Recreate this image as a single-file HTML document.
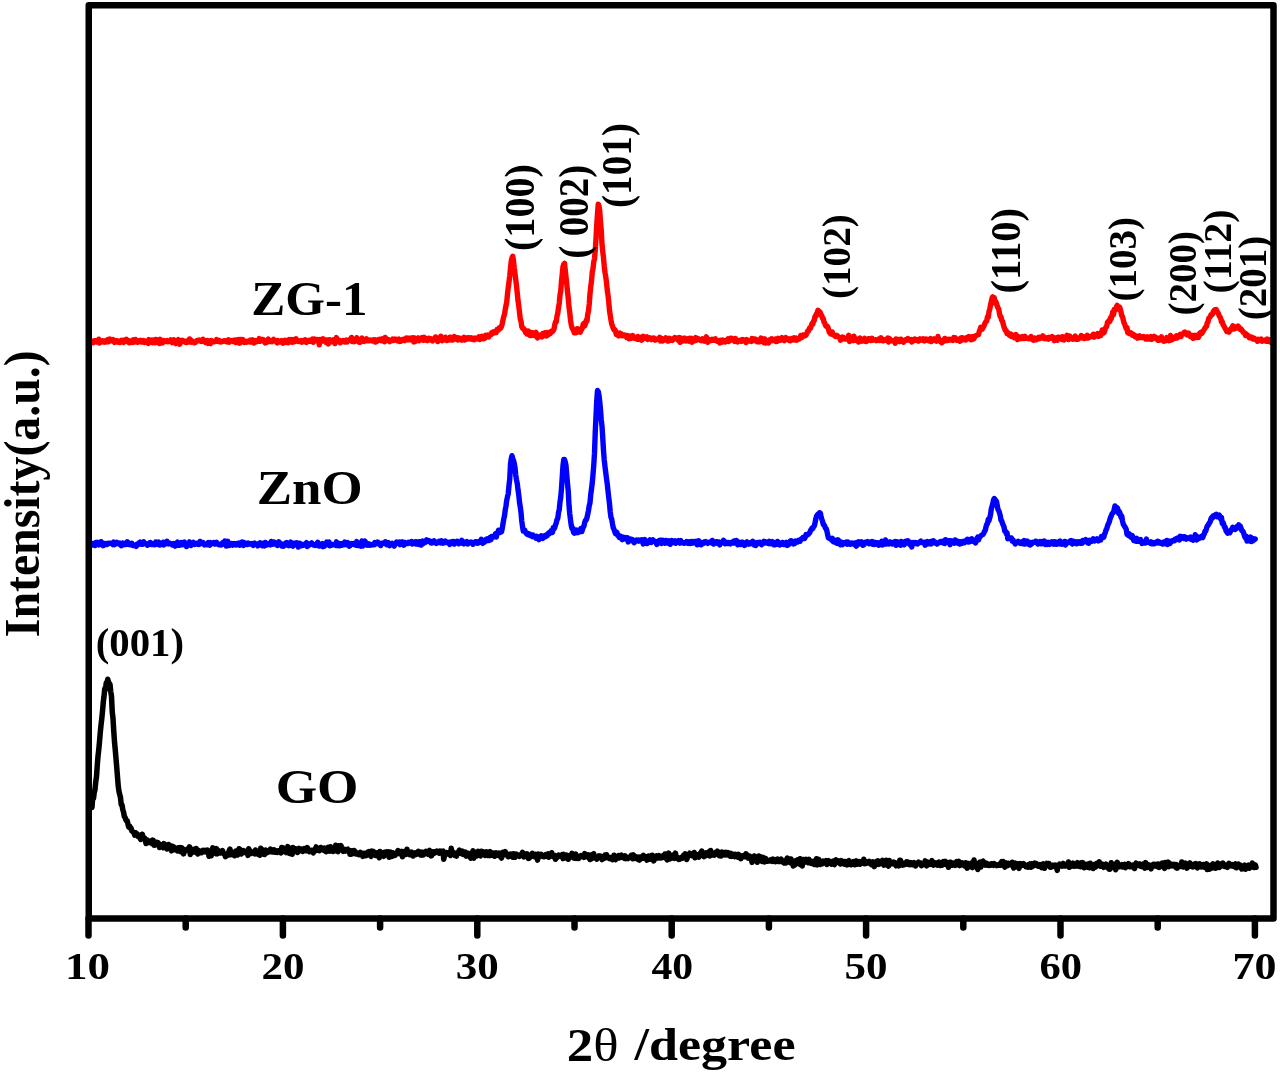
<!DOCTYPE html>
<html><head><meta charset="utf-8"><style>
html,body{margin:0;padding:0;background:#fff;}
body{width:1280px;height:1075px;overflow:hidden;position:relative;}
svg{position:absolute;left:0;top:0;will-change:transform;}
text{font-family:"Liberation Serif",serif;font-weight:bold;font-size:100px;fill:#000;}
</style></head><body>
<svg width="1280" height="1075" viewBox="0 0 1280 1075">
<rect x="0" y="0" width="1280" height="1075" fill="#fff"/>
<g fill="none" stroke-linejoin="round" stroke-linecap="round">
<path d="M92.00,807.4 L92.75,796.1 L93.50,798.5 L94.25,792.5 L95.00,789.5 L95.75,781.7 L96.50,776.6 L97.25,765.6 L98.00,756.3 L98.75,749.7 L99.50,741.7 L100.25,732.8 L101.00,725.2 L101.75,718.9 L102.50,711.4 L103.25,702.4 L104.00,696.4 L104.75,688.7 L105.50,689.5 L106.25,682.8 L107.00,682.6 L107.75,679.3 L108.50,682.1 L109.25,683.5 L110.00,684.5 L110.75,691.6 L111.50,696.3 L112.25,712.2 L113.00,718.3 L113.75,731.1 L114.50,741.7 L115.25,749.8 L116.00,758.6 L116.75,767.4 L117.50,776.9 L118.25,786.2 L119.00,791.5 L119.75,794.6 L120.50,797.5 L121.25,804.7 L122.00,804.9 L122.75,809.5 L123.50,811.8 L124.25,816.2 L125.00,817.3 L125.75,819.5 L126.50,820.8 L127.25,820.8 L128.00,824.2 L128.75,827.0 L129.50,825.9 L130.25,828.1 L131.00,828.0 L131.75,830.9 L132.50,831.2 L133.25,832.4 L134.00,832.4 L134.75,835.2 L135.50,832.7 L136.25,833.4 L137.00,833.7 L137.75,836.2 L138.50,834.8 L139.25,835.4 L140.00,838.1 L140.75,839.4 L141.50,838.9 L142.25,834.2 L143.00,837.4 L143.75,837.7 L144.50,837.9 L145.25,839.6 L146.00,843.5 L146.75,840.5 L147.50,840.1 L148.25,842.7 L149.00,842.0 L149.75,842.4 L150.50,841.4 L151.25,842.7 L152.00,843.7 L152.75,840.1 L153.50,840.8 L154.25,845.3 L155.00,845.1 L155.75,843.2 L156.50,842.5 L157.25,844.0 L158.00,842.6 L158.75,844.1 L159.50,847.5 L160.25,845.2 L161.00,847.0 L161.75,844.9 L162.50,846.0 L163.25,847.8 L164.00,843.6 L164.75,845.4 L165.50,845.9 L166.25,846.7 L167.00,849.0 L167.75,847.8 L168.50,844.5 L169.25,846.6 L170.00,845.8 L170.75,846.0 L171.50,850.9 L172.25,846.1 L173.00,848.4 L173.75,847.0 L174.50,849.7 L175.25,849.1 L176.00,848.9 L176.75,848.7 L177.50,850.8 L178.25,847.7 L179.00,848.1 L179.75,847.6 L180.50,851.6 L181.25,849.1 L182.00,848.0 L182.75,849.1 L183.50,853.9 L184.25,849.8 L185.00,851.3 L185.75,850.8 L186.50,850.1 L187.25,849.1 L188.00,849.7 L188.75,849.7 L189.50,846.8 L190.25,854.5 L191.00,851.9 L191.75,850.6 L192.50,850.2 L193.25,849.3 L194.00,852.1 L194.75,850.3 L195.50,851.5 L196.25,848.5 L197.00,851.4 L197.75,854.0 L198.50,850.4 L199.25,852.2 L200.00,851.1 L200.75,852.8 L201.50,852.8 L202.25,851.3 L203.00,850.3 L203.75,851.7 L204.50,851.4 L205.25,850.4 L206.00,852.1 L206.75,852.2 L207.50,850.1 L208.25,851.4 L209.00,856.3 L209.75,853.0 L210.50,851.9 L211.25,855.8 L212.00,851.1 L212.75,847.9 L213.50,848.9 L214.25,849.5 L215.00,852.4 L215.75,853.6 L216.50,848.6 L217.25,853.9 L218.00,850.2 L218.75,852.6 L219.50,853.0 L220.25,853.0 L221.00,852.4 L221.75,852.7 L222.50,850.6 L223.25,852.9 L224.00,854.1 L224.75,854.0 L225.50,856.7 L226.25,854.3 L227.00,853.8 L227.75,855.3 L228.50,853.0 L229.25,850.6 L230.00,849.1 L230.75,854.8 L231.50,853.6 L232.25,854.1 L233.00,852.2 L233.75,853.3 L234.50,855.8 L235.25,853.3 L236.00,851.0 L236.75,852.1 L237.50,855.0 L238.25,851.1 L239.00,848.7 L239.75,849.1 L240.50,850.6 L241.25,854.0 L242.00,852.9 L242.75,851.5 L243.50,850.6 L244.25,852.5 L245.00,852.4 L245.75,851.7 L246.50,852.2 L247.25,851.4 L248.00,855.4 L248.75,848.7 L249.50,852.7 L250.25,850.8 L251.00,853.5 L251.75,852.0 L252.50,852.9 L253.25,853.1 L254.00,852.6 L254.75,853.8 L255.50,850.0 L256.25,853.7 L257.00,851.7 L257.75,852.7 L258.50,854.5 L259.25,853.8 L260.00,855.1 L260.75,848.3 L261.50,850.3 L262.25,853.4 L263.00,850.0 L263.75,851.5 L264.50,854.5 L265.25,853.1 L266.00,850.1 L266.75,852.3 L267.50,852.6 L268.25,851.7 L269.00,851.4 L269.75,851.7 L270.50,849.1 L271.25,851.7 L272.00,849.9 L272.75,852.0 L273.50,852.1 L274.25,849.9 L275.00,852.3 L275.75,851.9 L276.50,851.2 L277.25,852.4 L278.00,850.8 L278.75,850.8 L279.50,851.3 L280.25,851.1 L281.00,853.0 L281.75,847.4 L282.50,850.6 L283.25,847.9 L284.00,850.3 L284.75,851.5 L285.50,851.0 L286.25,852.6 L287.00,851.5 L287.75,846.6 L288.50,849.1 L289.25,853.4 L290.00,853.4 L290.75,851.0 L291.50,848.4 L292.25,854.3 L293.00,847.4 L293.75,851.3 L294.50,850.7 L295.25,851.1 L296.00,848.8 L296.75,850.0 L297.50,852.4 L298.25,849.8 L299.00,848.4 L299.75,850.5 L300.50,850.7 L301.25,850.3 L302.00,849.2 L302.75,851.3 L303.50,850.2 L304.25,848.5 L305.00,850.7 L305.75,850.3 L306.50,850.6 L307.25,847.6 L308.00,849.1 L308.75,851.0 L309.50,851.7 L310.25,850.8 L311.00,850.4 L311.75,851.3 L312.50,851.7 L313.25,852.9 L314.00,850.8 L314.75,849.1 L315.50,850.8 L316.25,846.9 L317.00,850.1 L317.75,849.2 L318.50,849.9 L319.25,850.7 L320.00,850.0 L320.75,847.5 L321.50,849.2 L322.25,848.5 L323.00,849.7 L323.75,850.3 L324.50,848.2 L325.25,850.9 L326.00,851.7 L326.75,849.2 L327.50,850.8 L328.25,847.2 L329.00,848.7 L329.75,851.1 L330.50,846.7 L331.25,848.7 L332.00,848.1 L332.75,851.4 L333.50,851.3 L334.25,848.5 L335.00,849.7 L335.75,845.3 L336.50,850.9 L337.25,850.1 L338.00,851.7 L338.75,845.8 L339.50,850.2 L340.25,849.1 L341.00,845.6 L341.75,848.7 L342.50,849.8 L343.25,851.3 L344.00,850.5 L344.75,849.4 L345.50,851.1 L346.25,850.3 L347.00,849.6 L347.75,849.2 L348.50,851.2 L349.25,851.3 L350.00,854.2 L350.75,850.7 L351.50,854.1 L352.25,852.3 L353.00,853.7 L353.75,850.5 L354.50,850.8 L355.25,851.8 L356.00,853.9 L356.75,852.9 L357.50,853.9 L358.25,853.4 L359.00,854.7 L359.75,853.5 L360.50,852.4 L361.25,854.2 L362.00,853.6 L362.75,856.4 L363.50,853.4 L364.25,853.9 L365.00,853.3 L365.75,855.7 L366.50,855.3 L367.25,855.0 L368.00,852.0 L368.75,851.6 L369.50,854.4 L370.25,855.2 L371.00,856.4 L371.75,851.1 L372.50,853.7 L373.25,851.3 L374.00,852.4 L374.75,853.6 L375.50,855.5 L376.25,853.1 L377.00,852.8 L377.75,853.4 L378.50,855.9 L379.25,857.8 L380.00,851.4 L380.75,853.4 L381.50,853.2 L382.25,855.7 L383.00,854.5 L383.75,856.3 L384.50,852.2 L385.25,853.8 L386.00,853.0 L386.75,852.0 L387.50,853.5 L388.25,851.8 L389.00,857.2 L389.75,854.3 L390.50,852.0 L391.25,852.7 L392.00,856.4 L392.75,852.8 L393.50,854.7 L394.25,854.5 L395.00,855.3 L395.75,854.5 L396.50,853.2 L397.25,852.5 L398.00,850.6 L398.75,853.3 L399.50,853.6 L400.25,852.8 L401.00,853.1 L401.75,851.4 L402.50,856.8 L403.25,852.5 L404.00,851.6 L404.75,852.3 L405.50,853.0 L406.25,854.4 L407.00,849.3 L407.75,854.0 L408.50,852.2 L409.25,852.8 L410.00,854.7 L410.75,854.3 L411.50,852.0 L412.25,852.9 L413.00,856.0 L413.75,855.2 L414.50,854.4 L415.25,853.0 L416.00,854.5 L416.75,853.6 L417.50,852.1 L418.25,851.3 L419.00,853.7 L419.75,853.5 L420.50,854.8 L421.25,852.1 L422.00,855.1 L422.75,852.3 L423.50,854.9 L424.25,853.7 L425.00,851.9 L425.75,851.3 L426.50,852.6 L427.25,852.4 L428.00,854.3 L428.75,851.7 L429.50,850.4 L430.25,852.8 L431.00,855.9 L431.75,855.4 L432.50,851.8 L433.25,852.4 L434.00,853.3 L434.75,851.8 L435.50,852.4 L436.25,852.4 L437.00,851.2 L437.75,851.9 L438.50,852.1 L439.25,853.2 L440.00,851.0 L440.75,853.0 L441.50,851.3 L442.25,851.6 L443.00,851.1 L443.75,859.3 L444.50,854.9 L445.25,855.1 L446.00,854.3 L446.75,852.6 L447.50,853.1 L448.25,853.5 L449.00,853.7 L449.75,854.0 L450.50,855.5 L451.25,848.3 L452.00,852.2 L452.75,854.2 L453.50,852.5 L454.25,852.9 L455.00,855.5 L455.75,853.5 L456.50,856.1 L457.25,853.1 L458.00,853.6 L458.75,851.6 L459.50,850.1 L460.25,852.6 L461.00,853.4 L461.75,852.8 L462.50,851.2 L463.25,854.4 L464.00,853.5 L464.75,853.4 L465.50,852.2 L466.25,856.1 L467.00,855.9 L467.75,854.0 L468.50,853.4 L469.25,854.0 L470.00,856.3 L470.75,858.1 L471.50,853.7 L472.25,853.0 L473.00,850.8 L473.75,858.2 L474.50,852.0 L475.25,855.2 L476.00,854.6 L476.75,855.9 L477.50,852.5 L478.25,851.3 L479.00,854.1 L479.75,854.6 L480.50,855.8 L481.25,851.3 L482.00,853.3 L482.75,853.6 L483.50,851.9 L484.25,853.8 L485.00,855.4 L485.75,854.0 L486.50,851.8 L487.25,854.7 L488.00,855.5 L488.75,855.1 L489.50,855.5 L490.25,851.6 L491.00,855.0 L491.75,855.2 L492.50,853.7 L493.25,854.2 L494.00,853.1 L494.75,856.3 L495.50,853.9 L496.25,852.9 L497.00,854.7 L497.75,854.6 L498.50,855.5 L499.25,853.1 L500.00,853.4 L500.75,855.1 L501.50,858.1 L502.25,855.3 L503.00,852.4 L503.75,854.9 L504.50,853.4 L505.25,851.7 L506.00,853.6 L506.75,853.7 L507.50,855.4 L508.25,856.8 L509.00,856.5 L509.75,856.0 L510.50,854.1 L511.25,855.0 L512.00,854.7 L512.75,857.1 L513.50,853.8 L514.25,854.0 L515.00,857.3 L515.75,855.8 L516.50,854.2 L517.25,855.2 L518.00,855.2 L518.75,855.3 L519.50,856.3 L520.25,855.6 L521.00,854.7 L521.75,854.2 L522.50,852.3 L523.25,854.4 L524.00,856.9 L524.75,855.5 L525.50,854.1 L526.25,854.8 L527.00,853.8 L527.75,855.7 L528.50,858.4 L529.25,858.1 L530.00,857.2 L530.75,856.5 L531.50,854.9 L532.25,853.3 L533.00,855.3 L533.75,854.6 L534.50,856.7 L535.25,855.6 L536.00,854.5 L536.75,856.1 L537.50,860.1 L538.25,854.0 L539.00,857.3 L539.75,856.4 L540.50,855.4 L541.25,854.3 L542.00,855.6 L542.75,855.9 L543.50,856.8 L544.25,856.7 L545.00,856.1 L545.75,854.6 L546.50,856.1 L547.25,854.9 L548.00,854.0 L548.75,857.2 L549.50,854.7 L550.25,853.8 L551.00,855.9 L551.75,852.7 L552.50,855.7 L553.25,856.5 L554.00,855.2 L554.75,856.2 L555.50,859.3 L556.25,858.2 L557.00,857.4 L557.75,856.9 L558.50,855.1 L559.25,855.7 L560.00,855.5 L560.75,856.0 L561.50,856.2 L562.25,854.7 L563.00,858.6 L563.75,854.4 L564.50,856.7 L565.25,857.8 L566.00,856.1 L566.75,855.1 L567.50,856.2 L568.25,859.3 L569.00,857.2 L569.75,855.8 L570.50,857.2 L571.25,856.0 L572.00,853.3 L572.75,856.7 L573.50,858.0 L574.25,858.2 L575.00,856.3 L575.75,854.2 L576.50,858.4 L577.25,856.2 L578.00,857.7 L578.75,858.4 L579.50,857.1 L580.25,856.5 L581.00,855.6 L581.75,855.9 L582.50,856.7 L583.25,855.9 L584.00,857.3 L584.75,853.6 L585.50,855.1 L586.25,856.7 L587.00,855.7 L587.75,856.0 L588.50,855.0 L589.25,858.0 L590.00,859.5 L590.75,855.3 L591.50,858.8 L592.25,854.6 L593.00,857.2 L593.75,853.8 L594.50,857.8 L595.25,857.1 L596.00,857.3 L596.75,859.1 L597.50,858.1 L598.25,857.1 L599.00,855.9 L599.75,857.3 L600.50,856.1 L601.25,856.6 L602.00,859.6 L602.75,858.7 L603.50,857.8 L604.25,858.3 L605.00,855.0 L605.75,857.5 L606.50,854.7 L607.25,856.3 L608.00,858.0 L608.75,858.0 L609.50,858.6 L610.25,857.7 L611.00,857.5 L611.75,857.5 L612.50,859.7 L613.25,859.6 L614.00,855.2 L614.75,857.7 L615.50,859.6 L616.25,857.1 L617.00,857.9 L617.75,856.6 L618.50,855.6 L619.25,857.8 L620.00,856.9 L620.75,857.3 L621.50,855.2 L622.25,855.7 L623.00,857.3 L623.75,856.8 L624.50,858.4 L625.25,855.8 L626.00,858.6 L626.75,858.4 L627.50,857.6 L628.25,858.5 L629.00,857.4 L629.75,857.2 L630.50,857.4 L631.25,855.4 L632.00,857.4 L632.75,858.7 L633.50,854.9 L634.25,858.5 L635.00,856.4 L635.75,856.8 L636.50,857.5 L637.25,857.8 L638.00,859.5 L638.75,857.1 L639.50,860.1 L640.25,857.4 L641.00,858.1 L641.75,858.4 L642.50,856.2 L643.25,855.5 L644.00,857.5 L644.75,858.4 L645.50,858.7 L646.25,856.7 L647.00,860.1 L647.75,857.1 L648.50,856.2 L649.25,859.1 L650.00,859.2 L650.75,855.7 L651.50,858.6 L652.25,855.2 L653.00,857.3 L653.75,860.9 L654.50,859.3 L655.25,858.4 L656.00,858.3 L656.75,855.9 L657.50,857.8 L658.25,857.9 L659.00,855.5 L659.75,857.5 L660.50,858.0 L661.25,857.5 L662.00,857.8 L662.75,856.8 L663.50,855.3 L664.25,857.1 L665.00,854.0 L665.75,855.9 L666.50,858.8 L667.25,859.8 L668.00,857.6 L668.75,853.1 L669.50,859.1 L670.25,857.8 L671.00,856.6 L671.75,858.1 L672.50,857.7 L673.25,854.9 L674.00,854.7 L674.75,858.4 L675.50,853.1 L676.25,857.7 L677.00,857.2 L677.75,858.2 L678.50,859.4 L679.25,858.8 L680.00,859.1 L680.75,857.9 L681.50,857.4 L682.25,858.2 L683.00,856.5 L683.75,855.0 L684.50,856.3 L685.25,853.8 L686.00,855.4 L686.75,859.5 L687.50,857.0 L688.25,855.8 L689.00,855.1 L689.75,853.2 L690.50,855.1 L691.25,854.6 L692.00,855.8 L692.75,855.8 L693.50,855.5 L694.25,852.5 L695.00,857.8 L695.75,856.1 L696.50,855.4 L697.25,854.8 L698.00,855.9 L698.75,857.1 L699.50,856.0 L700.25,853.1 L701.00,852.9 L701.75,851.1 L702.50,855.0 L703.25,855.8 L704.00,856.6 L704.75,854.8 L705.50,855.8 L706.25,852.9 L707.00,855.2 L707.75,854.1 L708.50,853.2 L709.25,851.5 L710.00,856.0 L710.75,850.5 L711.50,855.0 L712.25,852.7 L713.00,854.9 L713.75,853.0 L714.50,855.1 L715.25,853.5 L716.00,852.2 L716.75,853.0 L717.50,851.2 L718.25,854.2 L719.00,855.5 L719.75,854.5 L720.50,854.0 L721.25,855.9 L722.00,852.0 L722.75,854.8 L723.50,854.0 L724.25,853.3 L725.00,855.0 L725.75,852.3 L726.50,854.0 L727.25,854.9 L728.00,852.6 L728.75,854.1 L729.50,855.5 L730.25,856.2 L731.00,853.3 L731.75,856.4 L732.50,854.6 L733.25,855.3 L734.00,854.4 L734.75,856.7 L735.50,854.4 L736.25,856.1 L737.00,856.4 L737.75,857.1 L738.50,854.4 L739.25,857.4 L740.00,856.3 L740.75,858.7 L741.50,856.0 L742.25,855.7 L743.00,856.6 L743.75,856.3 L744.50,856.7 L745.25,855.0 L746.00,853.8 L746.75,854.9 L747.50,856.4 L748.25,858.1 L749.00,857.0 L749.75,856.1 L750.50,857.5 L751.25,858.0 L752.00,862.4 L752.75,860.2 L753.50,858.6 L754.25,856.0 L755.00,858.2 L755.75,858.1 L756.50,859.6 L757.25,862.3 L758.00,858.9 L758.75,856.0 L759.50,859.0 L760.25,856.7 L761.00,860.8 L761.75,861.3 L762.50,860.2 L763.25,857.4 L764.00,859.6 L764.75,862.0 L765.50,858.5 L766.25,859.3 L767.00,860.7 L767.75,861.2 L768.50,860.6 L769.25,861.1 L770.00,861.0 L770.75,859.8 L771.50,860.6 L772.25,861.3 L773.00,859.1 L773.75,861.2 L774.50,861.1 L775.25,861.7 L776.00,861.6 L776.75,859.4 L777.50,859.1 L778.25,861.5 L779.00,860.9 L779.75,861.4 L780.50,860.3 L781.25,859.2 L782.00,861.7 L782.75,861.1 L783.50,862.3 L784.25,863.1 L785.00,863.1 L785.75,863.0 L786.50,859.9 L787.25,858.1 L788.00,860.5 L788.75,859.6 L789.50,859.4 L790.25,862.6 L791.00,859.0 L791.75,863.1 L792.50,863.4 L793.25,865.9 L794.00,863.3 L794.75,865.0 L795.50,860.7 L796.25,860.6 L797.00,863.3 L797.75,859.7 L798.50,863.6 L799.25,861.4 L800.00,858.7 L800.75,864.8 L801.50,860.1 L802.25,865.9 L803.00,859.5 L803.75,860.5 L804.50,862.3 L805.25,862.0 L806.00,859.4 L806.75,862.1 L807.50,862.3 L808.25,862.7 L809.00,859.4 L809.75,861.1 L810.50,861.9 L811.25,863.3 L812.00,862.3 L812.75,861.5 L813.50,861.4 L814.25,864.5 L815.00,860.8 L815.75,862.6 L816.50,858.7 L817.25,864.9 L818.00,862.9 L818.75,859.4 L819.50,863.2 L820.25,864.4 L821.00,863.5 L821.75,862.4 L822.50,863.6 L823.25,861.1 L824.00,861.9 L824.75,861.7 L825.50,862.4 L826.25,860.7 L827.00,864.5 L827.75,862.1 L828.50,860.6 L829.25,862.0 L830.00,863.0 L830.75,862.5 L831.50,864.2 L832.25,861.8 L833.00,861.2 L833.75,863.2 L834.50,864.5 L835.25,860.9 L836.00,859.9 L836.75,861.4 L837.50,862.4 L838.25,860.9 L839.00,862.8 L839.75,861.1 L840.50,864.0 L841.25,860.6 L842.00,861.1 L842.75,862.7 L843.50,863.7 L844.25,864.1 L845.00,861.5 L845.75,862.6 L846.50,863.5 L847.25,864.9 L848.00,861.2 L848.75,860.7 L849.50,863.4 L850.25,862.3 L851.00,864.8 L851.75,862.7 L852.50,863.2 L853.25,861.5 L854.00,863.2 L854.75,864.7 L855.50,862.4 L856.25,860.9 L857.00,864.2 L857.75,862.3 L858.50,862.9 L859.25,861.7 L860.00,864.3 L860.75,861.7 L861.50,862.1 L862.25,862.9 L863.00,862.6 L863.75,859.3 L864.50,863.7 L865.25,861.1 L866.00,863.3 L866.75,862.3 L867.50,862.8 L868.25,861.8 L869.00,861.3 L869.75,863.2 L870.50,863.4 L871.25,864.6 L872.00,863.9 L872.75,861.9 L873.50,864.9 L874.25,866.6 L875.00,864.2 L875.75,862.8 L876.50,861.5 L877.25,863.2 L878.00,860.8 L878.75,864.4 L879.50,862.5 L880.25,862.2 L881.00,863.6 L881.75,861.2 L882.50,860.4 L883.25,862.5 L884.00,865.2 L884.75,861.9 L885.50,864.6 L886.25,860.3 L887.00,863.1 L887.75,864.1 L888.50,866.1 L889.25,860.5 L890.00,863.2 L890.75,861.9 L891.50,863.8 L892.25,862.4 L893.00,863.5 L893.75,862.1 L894.50,862.5 L895.25,864.0 L896.00,865.8 L896.75,863.7 L897.50,863.6 L898.25,862.7 L899.00,865.9 L899.75,860.3 L900.50,860.3 L901.25,862.2 L902.00,864.2 L902.75,865.0 L903.50,864.4 L904.25,864.7 L905.00,863.8 L905.75,862.8 L906.50,861.8 L907.25,864.3 L908.00,862.0 L908.75,864.2 L909.50,864.7 L910.25,862.6 L911.00,862.9 L911.75,862.7 L912.50,864.7 L913.25,863.9 L914.00,862.6 L914.75,864.1 L915.50,866.0 L916.25,864.1 L917.00,863.9 L917.75,863.0 L918.50,862.2 L919.25,863.7 L920.00,863.8 L920.75,863.2 L921.50,865.6 L922.25,863.4 L923.00,863.5 L923.75,864.1 L924.50,864.6 L925.25,860.9 L926.00,864.2 L926.75,865.8 L927.50,862.0 L928.25,864.4 L929.00,863.0 L929.75,862.3 L930.50,864.3 L931.25,863.7 L932.00,860.6 L932.75,862.9 L933.50,865.2 L934.25,863.0 L935.00,862.7 L935.75,863.3 L936.50,863.2 L937.25,865.1 L938.00,862.6 L938.75,862.1 L939.50,864.6 L940.25,865.5 L941.00,865.1 L941.75,865.3 L942.50,863.0 L943.25,861.7 L944.00,862.9 L944.75,864.0 L945.50,861.3 L946.25,863.6 L947.00,865.0 L947.75,863.0 L948.50,867.2 L949.25,865.3 L950.00,862.2 L950.75,862.3 L951.50,863.0 L952.25,865.2 L953.00,864.9 L953.75,863.2 L954.50,864.4 L955.25,865.4 L956.00,865.0 L956.75,861.6 L957.50,862.5 L958.25,862.7 L959.00,861.5 L959.75,865.6 L960.50,863.2 L961.25,863.2 L962.00,862.9 L962.75,864.7 L963.50,865.1 L964.25,865.3 L965.00,866.2 L965.75,862.8 L966.50,866.8 L967.25,868.2 L968.00,863.4 L968.75,863.7 L969.50,865.3 L970.25,866.3 L971.00,863.9 L971.75,863.0 L972.50,867.6 L973.25,863.5 L974.00,860.0 L974.75,865.2 L975.50,865.9 L976.25,867.1 L977.00,867.2 L977.75,869.3 L978.50,863.5 L979.25,862.8 L980.00,862.1 L980.75,867.1 L981.50,863.7 L982.25,861.8 L983.00,861.2 L983.75,864.7 L984.50,863.8 L985.25,865.0 L986.00,863.1 L986.75,863.3 L987.50,865.2 L988.25,864.2 L989.00,865.4 L989.75,864.3 L990.50,864.1 L991.25,865.1 L992.00,864.0 L992.75,864.8 L993.50,865.3 L994.25,863.7 L995.00,864.4 L995.75,864.7 L996.50,865.6 L997.25,864.9 L998.00,865.0 L998.75,865.3 L999.50,864.1 L1000.25,865.2 L1001.00,863.4 L1001.75,861.7 L1002.50,865.3 L1003.25,861.5 L1004.00,864.4 L1004.75,867.1 L1005.50,865.8 L1006.25,863.0 L1007.00,865.8 L1007.75,865.0 L1008.50,863.3 L1009.25,864.5 L1010.00,863.8 L1010.75,864.2 L1011.50,865.2 L1012.25,862.2 L1013.00,866.0 L1013.75,867.9 L1014.50,864.5 L1015.25,863.2 L1016.00,864.1 L1016.75,866.7 L1017.50,863.9 L1018.25,865.5 L1019.00,868.4 L1019.75,863.6 L1020.50,864.9 L1021.25,863.9 L1022.00,864.2 L1022.75,865.0 L1023.50,863.6 L1024.25,865.5 L1025.00,865.1 L1025.75,866.7 L1026.50,865.9 L1027.25,865.4 L1028.00,867.2 L1028.75,864.5 L1029.50,865.9 L1030.25,863.8 L1031.00,867.2 L1031.75,863.7 L1032.50,866.4 L1033.25,863.8 L1034.00,865.3 L1034.75,863.2 L1035.50,863.7 L1036.25,863.5 L1037.00,865.7 L1037.75,865.8 L1038.50,866.2 L1039.25,865.6 L1040.00,864.7 L1040.75,866.1 L1041.50,867.5 L1042.25,864.5 L1043.00,863.9 L1043.75,866.0 L1044.50,868.3 L1045.25,865.0 L1046.00,864.6 L1046.75,863.5 L1047.50,864.0 L1048.25,863.6 L1049.00,863.6 L1049.75,866.8 L1050.50,867.2 L1051.25,865.3 L1052.00,865.3 L1052.75,866.5 L1053.50,865.2 L1054.25,865.4 L1055.00,866.2 L1055.75,865.2 L1056.50,867.3 L1057.25,870.4 L1058.00,865.3 L1058.75,865.7 L1059.50,864.0 L1060.25,864.6 L1061.00,865.4 L1061.75,866.0 L1062.50,865.0 L1063.25,863.4 L1064.00,865.9 L1064.75,864.5 L1065.50,866.0 L1066.25,865.0 L1067.00,865.1 L1067.75,865.2 L1068.50,862.0 L1069.25,867.3 L1070.00,863.9 L1070.75,865.9 L1071.50,866.2 L1072.25,864.5 L1073.00,863.2 L1073.75,866.3 L1074.50,863.9 L1075.25,865.2 L1076.00,866.1 L1076.75,864.6 L1077.50,862.7 L1078.25,864.3 L1079.00,866.2 L1079.75,864.1 L1080.50,866.8 L1081.25,862.9 L1082.00,863.9 L1082.75,862.6 L1083.50,863.9 L1084.25,867.8 L1085.00,866.3 L1085.75,864.9 L1086.50,864.4 L1087.25,867.2 L1088.00,865.2 L1088.75,863.8 L1089.50,867.8 L1090.25,863.3 L1091.00,865.7 L1091.75,866.4 L1092.50,866.9 L1093.25,868.5 L1094.00,866.7 L1094.75,864.3 L1095.50,867.2 L1096.25,865.9 L1097.00,863.4 L1097.75,863.7 L1098.50,864.1 L1099.25,861.9 L1100.00,866.1 L1100.75,866.3 L1101.50,866.2 L1102.25,864.1 L1103.00,865.3 L1103.75,867.3 L1104.50,866.0 L1105.25,865.2 L1106.00,864.2 L1106.75,865.3 L1107.50,867.4 L1108.25,865.4 L1109.00,869.1 L1109.75,869.3 L1110.50,866.6 L1111.25,862.8 L1112.00,865.0 L1112.75,867.5 L1113.50,864.5 L1114.25,864.3 L1115.00,865.5 L1115.75,869.7 L1116.50,864.7 L1117.25,862.3 L1118.00,865.9 L1118.75,866.1 L1119.50,866.6 L1120.25,865.6 L1121.00,866.0 L1121.75,864.7 L1122.50,867.0 L1123.25,865.4 L1124.00,866.3 L1124.75,864.3 L1125.50,867.7 L1126.25,865.9 L1127.00,864.8 L1127.75,865.6 L1128.50,863.7 L1129.25,864.5 L1130.00,866.8 L1130.75,866.5 L1131.50,866.8 L1132.25,866.6 L1133.00,865.1 L1133.75,865.7 L1134.50,868.5 L1135.25,865.3 L1136.00,863.1 L1136.75,865.5 L1137.50,864.9 L1138.25,865.3 L1139.00,865.5 L1139.75,863.9 L1140.50,866.2 L1141.25,865.2 L1142.00,866.5 L1142.75,864.4 L1143.50,863.9 L1144.25,864.8 L1145.00,868.1 L1145.75,862.6 L1146.50,867.3 L1147.25,865.4 L1148.00,867.3 L1148.75,864.9 L1149.50,866.1 L1150.25,866.1 L1151.00,868.9 L1151.75,865.3 L1152.50,865.9 L1153.25,864.3 L1154.00,866.0 L1154.75,864.3 L1155.50,865.3 L1156.25,866.1 L1157.00,866.4 L1157.75,864.1 L1158.50,864.1 L1159.25,867.4 L1160.00,864.7 L1160.75,865.8 L1161.50,865.1 L1162.25,863.0 L1163.00,865.4 L1163.75,865.4 L1164.50,868.4 L1165.25,862.5 L1166.00,864.7 L1166.75,866.6 L1167.50,864.7 L1168.25,862.1 L1169.00,866.6 L1169.75,865.9 L1170.50,864.2 L1171.25,864.0 L1172.00,864.5 L1172.75,865.9 L1173.50,865.3 L1174.25,864.5 L1175.00,866.1 L1175.75,867.3 L1176.50,864.6 L1177.25,868.1 L1178.00,865.7 L1178.75,866.6 L1179.50,866.3 L1180.25,866.4 L1181.00,866.0 L1181.75,862.0 L1182.50,864.1 L1183.25,867.0 L1184.00,863.9 L1184.75,865.8 L1185.50,863.1 L1186.25,864.6 L1187.00,868.1 L1187.75,866.0 L1188.50,864.2 L1189.25,864.6 L1190.00,862.9 L1190.75,866.3 L1191.50,865.2 L1192.25,866.8 L1193.00,866.9 L1193.75,865.1 L1194.50,864.1 L1195.25,863.7 L1196.00,864.9 L1196.75,865.6 L1197.50,867.8 L1198.25,864.1 L1199.00,866.3 L1199.75,863.9 L1200.50,864.7 L1201.25,866.8 L1202.00,866.4 L1202.75,864.7 L1203.50,864.6 L1204.25,867.3 L1205.00,865.3 L1205.75,865.1 L1206.50,863.9 L1207.25,869.6 L1208.00,868.5 L1208.75,866.5 L1209.50,869.2 L1210.25,866.4 L1211.00,865.1 L1211.75,866.5 L1212.50,867.9 L1213.25,863.9 L1214.00,867.7 L1214.75,867.6 L1215.50,868.1 L1216.25,866.5 L1217.00,867.5 L1217.75,863.0 L1218.50,865.7 L1219.25,867.4 L1220.00,866.7 L1220.75,866.2 L1221.50,863.8 L1222.25,865.6 L1223.00,863.1 L1223.75,865.5 L1224.50,866.4 L1225.25,865.0 L1226.00,866.6 L1226.75,865.9 L1227.50,867.3 L1228.25,865.3 L1229.00,863.3 L1229.75,863.9 L1230.50,864.7 L1231.25,865.9 L1232.00,866.0 L1232.75,864.7 L1233.50,866.1 L1234.25,864.9 L1235.00,866.9 L1235.75,863.8 L1236.50,867.8 L1237.25,866.4 L1238.00,865.3 L1238.75,864.2 L1239.50,866.8 L1240.25,865.0 L1241.00,867.0 L1241.75,868.9 L1242.50,866.3 L1243.25,866.4 L1244.00,866.9 L1244.75,865.2 L1245.50,869.2 L1246.25,865.7 L1247.00,867.2 L1247.75,866.7 L1248.50,865.2 L1249.25,868.3 L1250.00,866.8 L1250.75,865.1 L1251.50,865.2 L1252.25,863.1 L1253.00,864.5 L1253.75,867.6 L1254.50,867.6 L1255.25,864.8 L1256.00,867.3" stroke="#000" stroke-width="5.5"/>
<path d="M92.00,543.7 L92.75,544.9 L93.50,544.6 L94.25,544.5 L95.00,545.5 L95.75,542.4 L96.50,543.1 L97.25,542.3 L98.00,543.6 L98.75,544.9 L99.50,543.7 L100.25,544.3 L101.00,541.7 L101.75,543.9 L102.50,542.8 L103.25,545.7 L104.00,544.7 L104.75,544.8 L105.50,543.7 L106.25,544.4 L107.00,544.5 L107.75,543.4 L108.50,543.2 L109.25,543.6 L110.00,543.1 L110.75,543.1 L111.50,543.5 L112.25,543.0 L113.00,544.6 L113.75,542.0 L114.50,544.7 L115.25,543.1 L116.00,543.2 L116.75,542.3 L117.50,543.6 L118.25,543.5 L119.00,544.0 L119.75,543.2 L120.50,543.9 L121.25,545.8 L122.00,544.2 L122.75,543.2 L123.50,544.8 L124.25,543.6 L125.00,544.4 L125.75,544.5 L126.50,543.4 L127.25,541.7 L128.00,543.4 L128.75,544.4 L129.50,543.4 L130.25,544.3 L131.00,544.9 L131.75,543.2 L132.50,545.1 L133.25,545.6 L134.00,545.0 L134.75,545.1 L135.50,545.0 L136.25,546.3 L137.00,544.0 L137.75,543.8 L138.50,544.5 L139.25,542.8 L140.00,542.1 L140.75,542.8 L141.50,544.2 L142.25,544.3 L143.00,542.1 L143.75,541.7 L144.50,543.5 L145.25,543.6 L146.00,543.7 L146.75,544.5 L147.50,545.2 L148.25,544.1 L149.00,544.5 L149.75,542.6 L150.50,542.5 L151.25,544.1 L152.00,544.5 L152.75,544.6 L153.50,544.5 L154.25,544.7 L155.00,544.7 L155.75,541.9 L156.50,543.0 L157.25,544.3 L158.00,544.5 L158.75,542.1 L159.50,545.1 L160.25,543.3 L161.00,543.5 L161.75,544.1 L162.50,544.6 L163.25,542.2 L164.00,544.9 L164.75,543.9 L165.50,542.9 L166.25,543.5 L167.00,541.4 L167.75,543.1 L168.50,544.0 L169.25,543.0 L170.00,543.4 L170.75,543.6 L171.50,543.8 L172.25,544.9 L173.00,543.8 L173.75,543.5 L174.50,544.4 L175.25,546.1 L176.00,543.4 L176.75,544.3 L177.50,542.0 L178.25,545.3 L179.00,544.5 L179.75,545.2 L180.50,543.7 L181.25,542.6 L182.00,544.8 L182.75,544.6 L183.50,542.8 L184.25,542.2 L185.00,544.3 L185.75,543.6 L186.50,546.6 L187.25,543.1 L188.00,543.2 L188.75,543.6 L189.50,541.9 L190.25,542.8 L191.00,545.6 L191.75,543.6 L192.50,543.1 L193.25,542.4 L194.00,544.4 L194.75,544.5 L195.50,544.0 L196.25,543.3 L197.00,544.1 L197.75,544.2 L198.50,543.0 L199.25,544.4 L200.00,541.4 L200.75,542.3 L201.50,543.4 L202.25,543.6 L203.00,542.5 L203.75,544.1 L204.50,544.9 L205.25,544.3 L206.00,544.0 L206.75,544.7 L207.50,544.2 L208.25,542.5 L209.00,543.5 L209.75,545.2 L210.50,542.5 L211.25,543.8 L212.00,543.3 L212.75,542.8 L213.50,542.6 L214.25,543.9 L215.00,544.1 L215.75,544.1 L216.50,542.2 L217.25,543.4 L218.00,544.1 L218.75,544.8 L219.50,544.5 L220.25,544.7 L221.00,545.0 L221.75,544.7 L222.50,542.9 L223.25,543.8 L224.00,543.0 L224.75,541.1 L225.50,541.9 L226.25,546.1 L227.00,542.5 L227.75,541.3 L228.50,543.1 L229.25,545.4 L230.00,543.7 L230.75,544.2 L231.50,543.5 L232.25,543.7 L233.00,545.2 L233.75,544.7 L234.50,543.7 L235.25,544.8 L236.00,545.0 L236.75,543.5 L237.50,544.1 L238.25,544.1 L239.00,543.1 L239.75,545.1 L240.50,543.6 L241.25,543.1 L242.00,542.0 L242.75,542.4 L243.50,545.5 L244.25,542.6 L245.00,544.3 L245.75,543.4 L246.50,544.4 L247.25,544.5 L248.00,543.0 L248.75,543.5 L249.50,544.0 L250.25,544.0 L251.00,543.8 L251.75,543.5 L252.50,544.5 L253.25,545.3 L254.00,544.5 L254.75,543.1 L255.50,544.3 L256.25,543.9 L257.00,544.4 L257.75,545.9 L258.50,543.7 L259.25,543.9 L260.00,542.9 L260.75,543.6 L261.50,543.3 L262.25,545.7 L263.00,544.2 L263.75,543.3 L264.50,546.0 L265.25,542.5 L266.00,544.9 L266.75,545.0 L267.50,544.6 L268.25,543.7 L269.00,543.8 L269.75,543.6 L270.50,544.8 L271.25,541.4 L272.00,543.4 L272.75,544.1 L273.50,543.3 L274.25,542.0 L275.00,543.7 L275.75,543.1 L276.50,544.9 L277.25,545.5 L278.00,544.1 L278.75,541.9 L279.50,543.8 L280.25,543.0 L281.00,544.8 L281.75,545.9 L282.50,544.4 L283.25,546.3 L284.00,545.7 L284.75,544.8 L285.50,543.1 L286.25,544.3 L287.00,542.6 L287.75,545.3 L288.50,544.3 L289.25,545.7 L290.00,544.5 L290.75,542.1 L291.50,544.9 L292.25,545.3 L293.00,546.1 L293.75,543.2 L294.50,543.2 L295.25,544.3 L296.00,543.1 L296.75,542.8 L297.50,543.1 L298.25,547.1 L299.00,543.6 L299.75,543.2 L300.50,543.8 L301.25,544.3 L302.00,545.7 L302.75,545.3 L303.50,545.2 L304.25,544.3 L305.00,544.5 L305.75,543.6 L306.50,542.7 L307.25,546.6 L308.00,543.8 L308.75,545.4 L309.50,544.0 L310.25,544.2 L311.00,544.2 L311.75,542.8 L312.50,544.3 L313.25,544.8 L314.00,545.3 L314.75,544.9 L315.50,545.5 L316.25,544.7 L317.00,544.4 L317.75,542.2 L318.50,543.8 L319.25,546.1 L320.00,544.5 L320.75,545.3 L321.50,544.2 L322.25,543.7 L323.00,546.7 L323.75,544.8 L324.50,546.1 L325.25,545.0 L326.00,544.1 L326.75,542.0 L327.50,544.5 L328.25,542.7 L329.00,542.0 L329.75,545.8 L330.50,545.3 L331.25,545.2 L332.00,544.5 L332.75,544.4 L333.50,544.9 L334.25,544.6 L335.00,544.6 L335.75,545.3 L336.50,541.8 L337.25,545.5 L338.00,543.8 L338.75,545.4 L339.50,545.8 L340.25,543.5 L341.00,545.3 L341.75,545.3 L342.50,543.7 L343.25,543.9 L344.00,544.6 L344.75,542.0 L345.50,543.9 L346.25,544.6 L347.00,543.9 L347.75,542.6 L348.50,544.0 L349.25,546.1 L350.00,545.8 L350.75,544.2 L351.50,543.5 L352.25,544.3 L353.00,544.4 L353.75,543.6 L354.50,544.0 L355.25,545.0 L356.00,545.3 L356.75,541.6 L357.50,545.4 L358.25,544.4 L359.00,545.5 L359.75,544.2 L360.50,544.7 L361.25,546.1 L362.00,541.0 L362.75,546.0 L363.50,544.4 L364.25,542.2 L365.00,541.2 L365.75,544.5 L366.50,543.0 L367.25,545.2 L368.00,544.4 L368.75,544.0 L369.50,545.2 L370.25,544.3 L371.00,544.9 L371.75,545.0 L372.50,544.4 L373.25,544.9 L374.00,544.9 L374.75,542.5 L375.50,543.7 L376.25,543.8 L377.00,543.5 L377.75,542.2 L378.50,543.3 L379.25,544.3 L380.00,544.1 L380.75,545.5 L381.50,543.2 L382.25,543.3 L383.00,543.2 L383.75,543.4 L384.50,543.1 L385.25,541.7 L386.00,544.1 L386.75,544.8 L387.50,544.9 L388.25,542.5 L389.00,543.5 L389.75,545.7 L390.50,543.5 L391.25,544.0 L392.00,543.4 L392.75,544.7 L393.50,544.6 L394.25,546.1 L395.00,544.1 L395.75,544.0 L396.50,542.1 L397.25,543.0 L398.00,542.7 L398.75,543.1 L399.50,542.0 L400.25,544.7 L401.00,542.2 L401.75,543.7 L402.50,541.9 L403.25,543.7 L404.00,545.1 L404.75,542.4 L405.50,543.6 L406.25,543.1 L407.00,543.5 L407.75,543.6 L408.50,542.4 L409.25,542.9 L410.00,542.4 L410.75,542.1 L411.50,541.6 L412.25,544.0 L413.00,542.1 L413.75,543.6 L414.50,543.5 L415.25,541.7 L416.00,543.9 L416.75,541.8 L417.50,543.4 L418.25,544.3 L419.00,541.9 L419.75,541.6 L420.50,541.6 L421.25,545.1 L422.00,542.1 L422.75,541.1 L423.50,543.4 L424.25,542.2 L425.00,542.4 L425.75,541.3 L426.50,539.9 L427.25,541.5 L428.00,541.2 L428.75,540.5 L429.50,541.1 L430.25,541.2 L431.00,543.1 L431.75,543.0 L432.50,542.8 L433.25,541.6 L434.00,540.8 L434.75,542.5 L435.50,542.7 L436.25,543.3 L437.00,542.2 L437.75,542.0 L438.50,542.5 L439.25,541.2 L440.00,541.3 L440.75,542.9 L441.50,540.8 L442.25,542.1 L443.00,543.1 L443.75,542.5 L444.50,542.7 L445.25,541.0 L446.00,542.1 L446.75,541.9 L447.50,542.9 L448.25,542.7 L449.00,542.3 L449.75,544.4 L450.50,542.9 L451.25,542.0 L452.00,541.6 L452.75,542.3 L453.50,541.7 L454.25,544.1 L455.00,543.0 L455.75,542.0 L456.50,541.6 L457.25,541.2 L458.00,542.1 L458.75,543.8 L459.50,543.3 L460.25,542.3 L461.00,542.5 L461.75,540.3 L462.50,543.2 L463.25,542.2 L464.00,543.9 L464.75,542.2 L465.50,541.9 L466.25,542.7 L467.00,541.7 L467.75,543.9 L468.50,542.8 L469.25,542.8 L470.00,542.8 L470.75,542.0 L471.50,542.9 L472.25,542.6 L473.00,544.3 L473.75,542.4 L474.50,542.6 L475.25,541.7 L476.00,541.7 L476.75,541.7 L477.50,543.3 L478.25,541.9 L479.00,542.8 L479.75,541.3 L480.50,541.1 L481.25,539.3 L482.00,542.2 L482.75,543.3 L483.50,540.6 L484.25,542.3 L485.00,541.4 L485.75,539.5 L486.50,540.8 L487.25,538.7 L488.00,539.1 L488.75,540.5 L489.50,539.0 L490.25,537.2 L491.00,539.7 L491.75,536.6 L492.50,537.3 L493.25,536.7 L494.00,536.5 L494.75,535.2 L495.50,533.9 L496.25,537.1 L497.00,533.4 L497.75,532.7 L498.50,530.2 L499.25,532.1 L500.00,532.5 L500.75,531.5 L501.50,531.8 L502.25,528.4 L503.00,523.8 L503.75,519.1 L504.50,516.0 L505.25,509.9 L506.00,505.9 L506.75,500.2 L507.50,496.7 L508.25,493.6 L509.00,485.6 L509.75,478.9 L510.50,464.3 L511.25,458.7 L512.00,455.7 L512.75,458.5 L513.50,460.4 L514.25,463.4 L515.00,467.8 L515.75,475.1 L516.50,479.7 L517.25,483.5 L518.00,489.7 L518.75,494.8 L519.50,502.2 L520.25,506.9 L521.00,512.3 L521.75,521.0 L522.50,526.5 L523.25,531.0 L524.00,530.1 L524.75,530.2 L525.50,532.5 L526.25,533.0 L527.00,534.2 L527.75,534.6 L528.50,533.6 L529.25,535.1 L530.00,535.4 L530.75,534.5 L531.50,535.5 L532.25,536.6 L533.00,535.0 L533.75,535.8 L534.50,536.7 L535.25,537.3 L536.00,538.2 L536.75,536.3 L537.50,538.2 L538.25,538.6 L539.00,539.6 L539.75,537.4 L540.50,536.7 L541.25,535.8 L542.00,537.8 L542.75,538.4 L543.50,535.9 L544.25,536.8 L545.00,536.9 L545.75,536.6 L546.50,534.7 L547.25,535.5 L548.00,534.3 L548.75,532.8 L549.50,533.5 L550.25,533.0 L551.00,530.8 L551.75,531.6 L552.50,532.4 L553.25,527.6 L554.00,528.9 L554.75,527.6 L555.50,524.8 L556.25,522.9 L557.00,519.7 L557.75,518.5 L558.50,512.6 L559.25,509.7 L560.00,502.1 L560.75,497.0 L561.50,488.4 L562.25,477.0 L563.00,465.5 L563.75,459.5 L564.50,459.5 L565.25,462.0 L566.00,465.6 L566.75,474.8 L567.50,483.4 L568.25,490.9 L569.00,505.3 L569.75,513.8 L570.50,520.0 L571.25,525.5 L572.00,528.5 L572.75,528.1 L573.50,532.4 L574.25,533.1 L575.00,530.8 L575.75,532.7 L576.50,530.1 L577.25,531.0 L578.00,532.6 L578.75,530.2 L579.50,530.0 L580.25,531.6 L581.00,528.5 L581.75,531.6 L582.50,529.3 L583.25,527.3 L584.00,526.0 L584.75,522.3 L585.50,520.2 L586.25,519.9 L587.00,517.6 L587.75,514.2 L588.50,510.5 L589.25,505.7 L590.00,502.9 L590.75,494.3 L591.50,489.0 L592.25,482.9 L593.00,474.5 L593.75,465.4 L594.50,453.2 L595.25,432.0 L596.00,416.3 L596.75,400.7 L597.50,390.5 L598.25,391.5 L599.00,395.7 L599.75,401.8 L600.50,409.8 L601.25,419.8 L602.00,426.3 L602.75,437.7 L603.50,450.6 L604.25,460.0 L605.00,466.7 L605.75,472.7 L606.50,478.5 L607.25,483.8 L608.00,491.0 L608.75,497.5 L609.50,503.7 L610.25,512.1 L611.00,517.3 L611.75,519.4 L612.50,523.9 L613.25,527.7 L614.00,529.4 L614.75,531.5 L615.50,533.5 L616.25,531.9 L617.00,532.8 L617.75,535.5 L618.50,535.8 L619.25,537.5 L620.00,535.9 L620.75,538.0 L621.50,538.4 L622.25,539.7 L623.00,537.0 L623.75,537.7 L624.50,538.7 L625.25,538.9 L626.00,537.7 L626.75,538.4 L627.50,537.8 L628.25,541.9 L629.00,539.4 L629.75,539.6 L630.50,539.1 L631.25,539.9 L632.00,540.8 L632.75,539.7 L633.50,540.2 L634.25,542.7 L635.00,541.4 L635.75,540.8 L636.50,540.1 L637.25,540.7 L638.00,540.0 L638.75,541.1 L639.50,540.2 L640.25,540.2 L641.00,540.6 L641.75,539.9 L642.50,541.4 L643.25,544.0 L644.00,540.6 L644.75,539.5 L645.50,542.4 L646.25,541.3 L647.00,543.6 L647.75,541.9 L648.50,542.6 L649.25,540.7 L650.00,539.8 L650.75,541.4 L651.50,542.4 L652.25,540.7 L653.00,539.9 L653.75,541.1 L654.50,541.2 L655.25,541.4 L656.00,541.7 L656.75,544.4 L657.50,541.8 L658.25,541.3 L659.00,540.7 L659.75,542.7 L660.50,540.2 L661.25,543.5 L662.00,541.9 L662.75,540.3 L663.50,542.2 L664.25,541.9 L665.00,543.3 L665.75,540.4 L666.50,542.3 L667.25,542.0 L668.00,543.1 L668.75,540.8 L669.50,541.2 L670.25,544.3 L671.00,542.7 L671.75,540.5 L672.50,542.5 L673.25,541.3 L674.00,541.4 L674.75,540.9 L675.50,543.3 L676.25,541.6 L677.00,542.4 L677.75,542.3 L678.50,540.6 L679.25,541.5 L680.00,543.1 L680.75,540.6 L681.50,542.6 L682.25,542.2 L683.00,543.0 L683.75,543.1 L684.50,543.3 L685.25,542.4 L686.00,542.7 L686.75,541.6 L687.50,541.8 L688.25,543.4 L689.00,541.8 L689.75,543.5 L690.50,543.5 L691.25,541.6 L692.00,543.1 L692.75,541.6 L693.50,542.8 L694.25,541.6 L695.00,542.9 L695.75,542.7 L696.50,541.4 L697.25,544.8 L698.00,543.6 L698.75,540.8 L699.50,542.9 L700.25,542.1 L701.00,544.8 L701.75,542.5 L702.50,543.0 L703.25,542.4 L704.00,543.3 L704.75,542.0 L705.50,541.6 L706.25,542.1 L707.00,542.2 L707.75,543.3 L708.50,542.7 L709.25,542.2 L710.00,542.2 L710.75,541.7 L711.50,542.8 L712.25,540.4 L713.00,542.4 L713.75,544.0 L714.50,542.3 L715.25,542.0 L716.00,542.8 L716.75,541.7 L717.50,541.9 L718.25,543.5 L719.00,542.0 L719.75,544.9 L720.50,543.3 L721.25,542.6 L722.00,542.1 L722.75,542.5 L723.50,540.3 L724.25,543.0 L725.00,543.7 L725.75,543.4 L726.50,542.3 L727.25,543.5 L728.00,543.5 L728.75,542.6 L729.50,543.2 L730.25,543.9 L731.00,543.3 L731.75,542.4 L732.50,542.8 L733.25,543.0 L734.00,541.0 L734.75,543.0 L735.50,542.7 L736.25,540.4 L737.00,540.9 L737.75,544.8 L738.50,542.9 L739.25,544.3 L740.00,542.4 L740.75,544.5 L741.50,543.5 L742.25,542.1 L743.00,543.2 L743.75,544.6 L744.50,545.5 L745.25,543.4 L746.00,542.4 L746.75,541.9 L747.50,543.6 L748.25,544.1 L749.00,543.1 L749.75,542.8 L750.50,543.8 L751.25,543.4 L752.00,543.3 L752.75,541.2 L753.50,542.6 L754.25,545.0 L755.00,542.9 L755.75,545.6 L756.50,543.4 L757.25,542.6 L758.00,543.3 L758.75,543.6 L759.50,542.2 L760.25,543.2 L761.00,542.5 L761.75,544.6 L762.50,542.5 L763.25,543.1 L764.00,541.3 L764.75,541.5 L765.50,542.9 L766.25,542.0 L767.00,542.7 L767.75,543.2 L768.50,543.6 L769.25,541.4 L770.00,542.8 L770.75,543.7 L771.50,542.2 L772.25,541.6 L773.00,542.2 L773.75,544.8 L774.50,543.0 L775.25,544.7 L776.00,542.7 L776.75,544.3 L777.50,541.4 L778.25,542.7 L779.00,543.1 L779.75,544.9 L780.50,543.5 L781.25,544.2 L782.00,542.5 L782.75,542.5 L783.50,544.4 L784.25,544.6 L785.00,544.4 L785.75,544.3 L786.50,542.4 L787.25,545.4 L788.00,543.2 L788.75,544.4 L789.50,543.8 L790.25,541.0 L791.00,540.7 L791.75,541.1 L792.50,542.7 L793.25,543.9 L794.00,542.3 L794.75,543.5 L795.50,541.1 L796.25,541.6 L797.00,541.1 L797.75,541.8 L798.50,540.2 L799.25,541.0 L800.00,541.3 L800.75,539.7 L801.50,538.8 L802.25,538.9 L803.00,537.5 L803.75,537.1 L804.50,538.5 L805.25,537.3 L806.00,534.6 L806.75,535.0 L807.50,535.0 L808.25,534.4 L809.00,533.3 L809.75,532.7 L810.50,530.6 L811.25,529.5 L812.00,528.2 L812.75,528.6 L813.50,526.8 L814.25,526.0 L815.00,523.2 L815.75,519.1 L816.50,516.5 L817.25,514.9 L818.00,514.2 L818.75,515.1 L819.50,512.8 L820.25,512.9 L821.00,516.2 L821.75,519.1 L822.50,521.2 L823.25,524.5 L824.00,524.8 L824.75,526.2 L825.50,528.2 L826.25,528.8 L827.00,531.4 L827.75,535.3 L828.50,537.9 L829.25,538.5 L830.00,538.7 L830.75,539.0 L831.50,540.1 L832.25,538.2 L833.00,541.4 L833.75,542.0 L834.50,541.4 L835.25,541.9 L836.00,540.3 L836.75,543.3 L837.50,543.5 L838.25,539.8 L839.00,542.3 L839.75,543.3 L840.50,544.8 L841.25,542.0 L842.00,542.9 L842.75,544.6 L843.50,543.5 L844.25,542.7 L845.00,542.5 L845.75,543.0 L846.50,542.1 L847.25,544.1 L848.00,542.0 L848.75,543.6 L849.50,544.0 L850.25,544.3 L851.00,543.1 L851.75,543.0 L852.50,543.4 L853.25,543.2 L854.00,544.3 L854.75,543.0 L855.50,545.2 L856.25,546.2 L857.00,542.4 L857.75,543.5 L858.50,541.8 L859.25,543.9 L860.00,543.5 L860.75,542.8 L861.50,541.9 L862.25,543.1 L863.00,545.3 L863.75,544.8 L864.50,543.5 L865.25,542.4 L866.00,543.0 L866.75,542.2 L867.50,541.6 L868.25,542.0 L869.00,543.7 L869.75,543.4 L870.50,543.2 L871.25,541.8 L872.00,541.5 L872.75,544.2 L873.50,542.6 L874.25,544.4 L875.00,542.2 L875.75,544.1 L876.50,543.3 L877.25,542.6 L878.00,542.6 L878.75,545.2 L879.50,544.1 L880.25,542.7 L881.00,543.2 L881.75,541.3 L882.50,544.9 L883.25,544.6 L884.00,542.6 L884.75,543.5 L885.50,540.0 L886.25,544.1 L887.00,543.6 L887.75,543.3 L888.50,543.9 L889.25,543.4 L890.00,541.9 L890.75,542.2 L891.50,542.8 L892.25,544.0 L893.00,543.0 L893.75,542.2 L894.50,543.4 L895.25,541.6 L896.00,545.3 L896.75,543.3 L897.50,541.9 L898.25,543.1 L899.00,544.1 L899.75,543.5 L900.50,545.2 L901.25,541.4 L902.00,544.7 L902.75,542.9 L903.50,543.9 L904.25,544.8 L905.00,541.6 L905.75,541.3 L906.50,542.5 L907.25,541.1 L908.00,540.7 L908.75,543.0 L909.50,544.2 L910.25,542.3 L911.00,543.4 L911.75,546.9 L912.50,543.2 L913.25,542.5 L914.00,542.7 L914.75,543.3 L915.50,542.5 L916.25,543.6 L917.00,543.0 L917.75,543.8 L918.50,543.0 L919.25,542.7 L920.00,541.7 L920.75,541.2 L921.50,542.4 L922.25,542.3 L923.00,543.0 L923.75,542.6 L924.50,542.3 L925.25,545.2 L926.00,543.0 L926.75,544.0 L927.50,541.5 L928.25,543.8 L929.00,543.9 L929.75,543.1 L930.50,541.6 L931.25,544.0 L932.00,541.8 L932.75,540.9 L933.50,540.8 L934.25,542.6 L935.00,542.0 L935.75,543.4 L936.50,543.3 L937.25,544.0 L938.00,542.9 L938.75,542.6 L939.50,542.5 L940.25,541.6 L941.00,541.5 L941.75,541.6 L942.50,542.7 L943.25,541.4 L944.00,542.3 L944.75,543.5 L945.50,539.7 L946.25,541.3 L947.00,541.2 L947.75,542.3 L948.50,540.6 L949.25,541.5 L950.00,544.7 L950.75,540.7 L951.50,542.1 L952.25,542.4 L953.00,541.8 L953.75,540.8 L954.50,543.2 L955.25,539.9 L956.00,541.0 L956.75,541.8 L957.50,541.3 L958.25,543.3 L959.00,541.6 L959.75,544.0 L960.50,541.9 L961.25,543.6 L962.00,542.3 L962.75,541.5 L963.50,541.4 L964.25,542.8 L965.00,541.0 L965.75,541.5 L966.50,540.6 L967.25,539.2 L968.00,542.0 L968.75,542.0 L969.50,539.9 L970.25,541.6 L971.00,540.8 L971.75,538.8 L972.50,539.8 L973.25,541.4 L974.00,541.6 L974.75,540.6 L975.50,543.0 L976.25,540.0 L977.00,538.4 L977.75,537.2 L978.50,540.0 L979.25,537.4 L980.00,537.0 L980.75,535.9 L981.50,535.2 L982.25,534.7 L983.00,534.4 L983.75,533.1 L984.50,531.3 L985.25,530.3 L986.00,526.9 L986.75,524.4 L987.50,523.6 L988.25,519.4 L989.00,520.6 L989.75,517.8 L990.50,514.6 L991.25,509.3 L992.00,506.5 L992.75,503.8 L993.50,500.1 L994.25,498.5 L995.00,499.3 L995.75,500.6 L996.50,501.4 L997.25,505.5 L998.00,509.6 L998.75,510.7 L999.50,512.9 L1000.25,515.6 L1001.00,520.3 L1001.75,521.0 L1002.50,523.5 L1003.25,525.3 L1004.00,526.7 L1004.75,531.2 L1005.50,531.3 L1006.25,533.6 L1007.00,532.7 L1007.75,538.7 L1008.50,538.0 L1009.25,537.8 L1010.00,537.8 L1010.75,538.7 L1011.50,538.1 L1012.25,541.0 L1013.00,540.0 L1013.75,541.9 L1014.50,542.2 L1015.25,544.0 L1016.00,542.2 L1016.75,542.3 L1017.50,542.6 L1018.25,541.4 L1019.00,541.8 L1019.75,542.5 L1020.50,543.4 L1021.25,543.0 L1022.00,541.9 L1022.75,543.6 L1023.50,541.9 L1024.25,540.6 L1025.00,544.1 L1025.75,542.4 L1026.50,541.9 L1027.25,541.1 L1028.00,541.9 L1028.75,544.3 L1029.50,542.4 L1030.25,544.9 L1031.00,542.5 L1031.75,543.8 L1032.50,542.6 L1033.25,542.1 L1034.00,542.1 L1034.75,542.3 L1035.50,541.3 L1036.25,541.3 L1037.00,543.0 L1037.75,544.0 L1038.50,542.8 L1039.25,542.7 L1040.00,541.7 L1040.75,543.9 L1041.50,543.9 L1042.25,541.4 L1043.00,542.8 L1043.75,542.4 L1044.50,541.1 L1045.25,544.5 L1046.00,544.1 L1046.75,543.1 L1047.50,544.3 L1048.25,542.2 L1049.00,543.1 L1049.75,544.3 L1050.50,542.5 L1051.25,543.1 L1052.00,541.7 L1052.75,543.5 L1053.50,544.1 L1054.25,541.7 L1055.00,541.9 L1055.75,542.7 L1056.50,544.3 L1057.25,542.2 L1058.00,541.9 L1058.75,542.7 L1059.50,544.0 L1060.25,541.1 L1061.00,542.6 L1061.75,544.2 L1062.50,542.7 L1063.25,542.4 L1064.00,543.7 L1064.75,541.4 L1065.50,545.0 L1066.25,543.2 L1067.00,542.3 L1067.75,542.8 L1068.50,542.6 L1069.25,542.3 L1070.00,541.2 L1070.75,542.3 L1071.50,540.6 L1072.25,544.0 L1073.00,541.2 L1073.75,541.6 L1074.50,541.5 L1075.25,543.1 L1076.00,542.1 L1076.75,543.8 L1077.50,541.7 L1078.25,542.3 L1079.00,542.1 L1079.75,541.7 L1080.50,543.3 L1081.25,543.3 L1082.00,543.4 L1082.75,540.4 L1083.50,542.2 L1084.25,540.6 L1085.00,540.5 L1085.75,539.7 L1086.50,540.6 L1087.25,542.2 L1088.00,543.0 L1088.75,543.3 L1089.50,540.3 L1090.25,540.6 L1091.00,541.4 L1091.75,541.2 L1092.50,541.1 L1093.25,538.8 L1094.00,540.3 L1094.75,541.0 L1095.50,540.4 L1096.25,539.8 L1097.00,538.9 L1097.75,539.3 L1098.50,540.9 L1099.25,539.4 L1100.00,539.6 L1100.75,539.9 L1101.50,536.4 L1102.25,537.8 L1103.00,536.9 L1103.75,537.2 L1104.50,534.3 L1105.25,532.6 L1106.00,530.1 L1106.75,528.7 L1107.50,526.0 L1108.25,524.0 L1109.00,522.7 L1109.75,520.1 L1110.50,517.5 L1111.25,516.0 L1112.00,513.8 L1112.75,513.0 L1113.50,512.3 L1114.25,509.2 L1115.00,505.9 L1115.75,508.7 L1116.50,508.0 L1117.25,507.7 L1118.00,509.6 L1118.75,513.5 L1119.50,511.7 L1120.25,514.1 L1121.00,517.4 L1121.75,516.1 L1122.50,521.0 L1123.25,524.2 L1124.00,525.3 L1124.75,526.8 L1125.50,527.7 L1126.25,529.5 L1127.00,534.3 L1127.75,533.0 L1128.50,535.5 L1129.25,533.7 L1130.00,536.2 L1130.75,537.1 L1131.50,537.5 L1132.25,535.5 L1133.00,538.0 L1133.75,540.6 L1134.50,540.0 L1135.25,539.0 L1136.00,541.1 L1136.75,538.3 L1137.50,541.2 L1138.25,541.2 L1139.00,540.3 L1139.75,540.0 L1140.50,539.5 L1141.25,541.2 L1142.00,543.5 L1142.75,542.7 L1143.50,542.3 L1144.25,543.0 L1145.00,541.5 L1145.75,542.8 L1146.50,539.1 L1147.25,541.9 L1148.00,541.9 L1148.75,542.4 L1149.50,542.4 L1150.25,543.3 L1151.00,541.9 L1151.75,543.7 L1152.50,542.4 L1153.25,543.6 L1154.00,542.8 L1154.75,543.6 L1155.50,543.1 L1156.25,542.0 L1157.00,542.8 L1157.75,541.2 L1158.50,542.6 L1159.25,543.0 L1160.00,542.3 L1160.75,542.4 L1161.50,543.6 L1162.25,543.9 L1163.00,544.1 L1163.75,541.9 L1164.50,542.0 L1165.25,543.3 L1166.00,543.4 L1166.75,540.4 L1167.50,544.6 L1168.25,543.7 L1169.00,541.0 L1169.75,543.6 L1170.50,541.8 L1171.25,542.0 L1172.00,540.8 L1172.75,540.7 L1173.50,540.8 L1174.25,540.9 L1175.00,539.2 L1175.75,539.9 L1176.50,538.7 L1177.25,538.5 L1178.00,537.8 L1178.75,537.8 L1179.50,540.0 L1180.25,536.3 L1181.00,536.6 L1181.75,538.0 L1182.50,537.5 L1183.25,536.9 L1184.00,538.5 L1184.75,536.8 L1185.50,538.0 L1186.25,539.1 L1187.00,538.7 L1187.75,537.7 L1188.50,538.0 L1189.25,538.2 L1190.00,538.7 L1190.75,537.0 L1191.50,539.4 L1192.25,538.9 L1193.00,540.1 L1193.75,538.9 L1194.50,539.1 L1195.25,534.7 L1196.00,537.4 L1196.75,539.9 L1197.50,538.2 L1198.25,537.2 L1199.00,538.4 L1199.75,537.6 L1200.50,537.8 L1201.25,536.5 L1202.00,537.3 L1202.75,537.6 L1203.50,535.1 L1204.25,534.0 L1205.00,531.2 L1205.75,531.0 L1206.50,528.5 L1207.25,526.0 L1208.00,525.5 L1208.75,523.9 L1209.50,522.9 L1210.25,521.5 L1211.00,518.7 L1211.75,517.5 L1212.50,517.9 L1213.25,515.6 L1214.00,515.6 L1214.75,515.2 L1215.50,515.0 L1216.25,514.3 L1217.00,516.8 L1217.75,516.3 L1218.50,515.7 L1219.25,515.0 L1220.00,517.0 L1220.75,519.2 L1221.50,517.5 L1222.25,523.5 L1223.00,522.4 L1223.75,524.5 L1224.50,527.4 L1225.25,527.3 L1226.00,530.7 L1226.75,531.9 L1227.50,533.1 L1228.25,531.1 L1229.00,532.6 L1229.75,532.8 L1230.50,531.3 L1231.25,529.8 L1232.00,528.8 L1232.75,527.2 L1233.50,528.0 L1234.25,528.7 L1235.00,529.5 L1235.75,528.6 L1236.50,528.5 L1237.25,526.4 L1238.00,526.2 L1238.75,524.9 L1239.50,525.9 L1240.25,526.1 L1241.00,528.1 L1241.75,530.4 L1242.50,530.9 L1243.25,531.9 L1244.00,534.3 L1244.75,536.8 L1245.50,537.9 L1246.25,536.2 L1247.00,541.0 L1247.75,539.0 L1248.50,538.0 L1249.25,539.4 L1250.00,541.0 L1250.75,537.1 L1251.50,541.5 L1252.25,540.4 L1253.00,540.8 L1253.75,538.7 L1254.50,539.6 L1255.25,539.0" stroke="#0000ff" stroke-width="5.4"/>
<path d="M92.00,341.3 L92.75,342.7 L93.50,342.6 L94.25,340.7 L95.00,340.9 L95.75,340.7 L96.50,341.9 L97.25,341.2 L98.00,342.1 L98.75,339.2 L99.50,343.0 L100.25,341.2 L101.00,342.0 L101.75,341.1 L102.50,340.8 L103.25,341.8 L104.00,342.2 L104.75,341.0 L105.50,341.1 L106.25,342.0 L107.00,340.3 L107.75,339.6 L108.50,341.7 L109.25,340.5 L110.00,339.2 L110.75,340.4 L111.50,340.8 L112.25,340.0 L113.00,339.6 L113.75,341.3 L114.50,342.3 L115.25,341.0 L116.00,340.5 L116.75,341.7 L117.50,342.1 L118.25,341.0 L119.00,341.9 L119.75,342.4 L120.50,341.1 L121.25,340.4 L122.00,341.7 L122.75,341.6 L123.50,342.5 L124.25,339.9 L125.00,340.6 L125.75,340.4 L126.50,339.4 L127.25,341.4 L128.00,341.9 L128.75,340.5 L129.50,342.8 L130.25,342.2 L131.00,342.0 L131.75,341.7 L132.50,342.3 L133.25,339.8 L134.00,342.0 L134.75,342.0 L135.50,339.4 L136.25,341.7 L137.00,341.0 L137.75,342.2 L138.50,340.8 L139.25,341.3 L140.00,341.7 L140.75,340.3 L141.50,342.0 L142.25,341.2 L143.00,341.8 L143.75,340.7 L144.50,342.5 L145.25,342.0 L146.00,341.1 L146.75,342.0 L147.50,342.7 L148.25,343.3 L149.00,339.6 L149.75,342.3 L150.50,341.8 L151.25,341.2 L152.00,340.2 L152.75,342.7 L153.50,339.9 L154.25,341.9 L155.00,342.7 L155.75,339.5 L156.50,341.0 L157.25,339.9 L158.00,341.6 L158.75,343.0 L159.50,343.5 L160.25,339.3 L161.00,340.7 L161.75,342.1 L162.50,343.0 L163.25,341.8 L164.00,340.5 L164.75,341.6 L165.50,341.3 L166.25,341.1 L167.00,340.5 L167.75,341.7 L168.50,341.6 L169.25,341.2 L170.00,341.1 L170.75,339.9 L171.50,340.8 L172.25,342.6 L173.00,341.1 L173.75,339.7 L174.50,342.8 L175.25,341.9 L176.00,343.6 L176.75,341.4 L177.50,340.8 L178.25,339.7 L179.00,342.7 L179.75,344.1 L180.50,340.4 L181.25,340.6 L182.00,341.9 L182.75,340.4 L183.50,341.0 L184.25,340.9 L185.00,341.5 L185.75,342.5 L186.50,341.3 L187.25,342.3 L188.00,340.8 L188.75,341.6 L189.50,338.9 L190.25,339.7 L191.00,342.2 L191.75,340.6 L192.50,341.9 L193.25,341.9 L194.00,342.7 L194.75,342.2 L195.50,342.4 L196.25,341.2 L197.00,340.5 L197.75,340.5 L198.50,340.7 L199.25,340.0 L200.00,340.7 L200.75,341.2 L201.50,341.5 L202.25,340.9 L203.00,339.2 L203.75,341.2 L204.50,341.5 L205.25,342.5 L206.00,341.9 L206.75,340.6 L207.50,340.5 L208.25,343.5 L209.00,342.1 L209.75,343.3 L210.50,343.6 L211.25,340.4 L212.00,341.7 L212.75,341.8 L213.50,341.9 L214.25,341.8 L215.00,341.5 L215.75,341.4 L216.50,339.6 L217.25,341.1 L218.00,340.4 L218.75,341.4 L219.50,340.7 L220.25,341.9 L221.00,342.1 L221.75,341.6 L222.50,341.6 L223.25,341.3 L224.00,340.7 L224.75,341.1 L225.50,340.7 L226.25,341.7 L227.00,341.2 L227.75,341.9 L228.50,339.8 L229.25,342.2 L230.00,340.4 L230.75,340.4 L231.50,341.0 L232.25,340.6 L233.00,341.5 L233.75,340.6 L234.50,340.0 L235.25,340.3 L236.00,342.6 L236.75,341.2 L237.50,339.9 L238.25,341.2 L239.00,339.5 L239.75,343.2 L240.50,339.5 L241.25,341.7 L242.00,341.8 L242.75,339.6 L243.50,341.5 L244.25,342.3 L245.00,341.7 L245.75,341.5 L246.50,342.2 L247.25,341.3 L248.00,341.5 L248.75,341.0 L249.50,341.8 L250.25,340.1 L251.00,342.0 L251.75,340.6 L252.50,339.9 L253.25,341.5 L254.00,343.0 L254.75,342.2 L255.50,340.6 L256.25,341.9 L257.00,340.6 L257.75,341.0 L258.50,341.2 L259.25,338.6 L260.00,341.3 L260.75,340.0 L261.50,340.3 L262.25,339.5 L263.00,339.4 L263.75,340.0 L264.50,342.0 L265.25,342.9 L266.00,341.0 L266.75,342.3 L267.50,340.8 L268.25,339.0 L269.00,341.2 L269.75,341.5 L270.50,340.6 L271.25,341.4 L272.00,341.7 L272.75,340.1 L273.50,339.4 L274.25,340.8 L275.00,340.8 L275.75,340.6 L276.50,342.1 L277.25,342.9 L278.00,340.6 L278.75,341.8 L279.50,342.0 L280.25,341.8 L281.00,342.1 L281.75,340.6 L282.50,341.8 L283.25,343.2 L284.00,341.9 L284.75,340.3 L285.50,341.6 L286.25,342.4 L287.00,341.4 L287.75,340.3 L288.50,342.7 L289.25,339.6 L290.00,341.5 L290.75,340.9 L291.50,339.6 L292.25,342.3 L293.00,341.3 L293.75,339.6 L294.50,341.6 L295.25,340.4 L296.00,338.8 L296.75,340.2 L297.50,341.2 L298.25,341.6 L299.00,341.1 L299.75,340.9 L300.50,341.4 L301.25,340.7 L302.00,342.2 L302.75,341.0 L303.50,341.2 L304.25,341.5 L305.00,339.7 L305.75,340.1 L306.50,342.5 L307.25,341.2 L308.00,340.5 L308.75,341.2 L309.50,340.3 L310.25,341.1 L311.00,340.1 L311.75,341.1 L312.50,339.1 L313.25,342.3 L314.00,340.2 L314.75,339.1 L315.50,340.6 L316.25,340.4 L317.00,341.0 L317.75,339.5 L318.50,341.2 L319.25,344.8 L320.00,339.4 L320.75,341.1 L321.50,340.4 L322.25,341.0 L323.00,338.8 L323.75,339.5 L324.50,341.2 L325.25,340.7 L326.00,342.5 L326.75,339.9 L327.50,340.9 L328.25,343.9 L329.00,339.9 L329.75,339.7 L330.50,340.7 L331.25,340.6 L332.00,341.6 L332.75,340.8 L333.50,339.8 L334.25,340.9 L335.00,343.6 L335.75,342.1 L336.50,337.6 L337.25,340.5 L338.00,339.7 L338.75,341.3 L339.50,340.4 L340.25,342.7 L341.00,341.6 L341.75,341.6 L342.50,340.8 L343.25,340.5 L344.00,341.0 L344.75,342.0 L345.50,341.2 L346.25,340.2 L347.00,342.0 L347.75,340.8 L348.50,340.5 L349.25,339.7 L350.00,339.9 L350.75,339.8 L351.50,337.4 L352.25,341.6 L353.00,341.1 L353.75,340.2 L354.50,341.6 L355.25,340.9 L356.00,340.9 L356.75,337.7 L357.50,340.2 L358.25,341.0 L359.00,342.2 L359.75,342.4 L360.50,342.0 L361.25,339.1 L362.00,338.0 L362.75,341.0 L363.50,340.4 L364.25,341.4 L365.00,340.2 L365.75,340.6 L366.50,338.7 L367.25,340.8 L368.00,339.8 L368.75,340.7 L369.50,340.8 L370.25,340.1 L371.00,340.6 L371.75,340.2 L372.50,341.1 L373.25,340.8 L374.00,339.6 L374.75,339.6 L375.50,342.1 L376.25,340.1 L377.00,341.3 L377.75,340.6 L378.50,339.5 L379.25,339.3 L380.00,340.3 L380.75,340.4 L381.50,340.8 L382.25,338.7 L383.00,339.4 L383.75,340.0 L384.50,341.8 L385.25,337.5 L386.00,340.5 L386.75,339.4 L387.50,340.5 L388.25,339.5 L389.00,340.4 L389.75,341.7 L390.50,340.4 L391.25,340.4 L392.00,340.3 L392.75,339.1 L393.50,340.5 L394.25,339.7 L395.00,339.0 L395.75,339.8 L396.50,339.6 L397.25,340.7 L398.00,339.8 L398.75,339.2 L399.50,341.4 L400.25,340.9 L401.00,341.2 L401.75,340.4 L402.50,339.6 L403.25,339.3 L404.00,339.4 L404.75,340.7 L405.50,339.8 L406.25,338.0 L407.00,339.6 L407.75,338.1 L408.50,339.8 L409.25,338.3 L410.00,338.2 L410.75,339.7 L411.50,339.5 L412.25,337.7 L413.00,340.3 L413.75,341.9 L414.50,337.8 L415.25,341.5 L416.00,338.7 L416.75,338.9 L417.50,339.2 L418.25,337.8 L419.00,340.8 L419.75,339.9 L420.50,338.5 L421.25,339.0 L422.00,337.6 L422.75,338.9 L423.50,340.3 L424.25,337.3 L425.00,338.7 L425.75,339.3 L426.50,340.3 L427.25,340.6 L428.00,338.6 L428.75,338.3 L429.50,339.6 L430.25,338.7 L431.00,338.7 L431.75,340.3 L432.50,340.9 L433.25,339.3 L434.00,338.8 L434.75,339.6 L435.50,336.9 L436.25,339.0 L437.00,337.8 L437.75,341.6 L438.50,339.8 L439.25,339.1 L440.00,338.7 L440.75,336.2 L441.50,339.7 L442.25,340.7 L443.00,338.1 L443.75,339.7 L444.50,339.7 L445.25,337.2 L446.00,339.9 L446.75,340.4 L447.50,339.2 L448.25,338.8 L449.00,339.8 L449.75,337.2 L450.50,339.0 L451.25,340.0 L452.00,337.5 L452.75,340.0 L453.50,338.4 L454.25,336.6 L455.00,338.7 L455.75,337.8 L456.50,339.2 L457.25,337.6 L458.00,340.0 L458.75,338.0 L459.50,339.2 L460.25,338.2 L461.00,338.5 L461.75,340.1 L462.50,339.0 L463.25,338.4 L464.00,337.4 L464.75,340.1 L465.50,339.6 L466.25,338.4 L467.00,339.0 L467.75,337.6 L468.50,337.6 L469.25,337.8 L470.00,339.1 L470.75,339.0 L471.50,337.8 L472.25,339.4 L473.00,339.5 L473.75,338.7 L474.50,339.6 L475.25,338.1 L476.00,338.3 L476.75,338.8 L477.50,338.2 L478.25,339.0 L479.00,336.7 L479.75,339.6 L480.50,337.0 L481.25,337.6 L482.00,336.2 L482.75,338.2 L483.50,338.8 L484.25,338.5 L485.00,338.1 L485.75,335.3 L486.50,336.0 L487.25,336.0 L488.00,335.1 L488.75,337.0 L489.50,335.5 L490.25,334.8 L491.00,334.8 L491.75,332.7 L492.50,332.3 L493.25,331.9 L494.00,333.0 L494.75,332.5 L495.50,332.3 L496.25,332.5 L497.00,329.4 L497.75,329.8 L498.50,330.0 L499.25,327.7 L500.00,327.7 L500.75,328.1 L501.50,326.2 L502.25,323.8 L503.00,319.9 L503.75,316.5 L504.50,314.6 L505.25,309.4 L506.00,305.9 L506.75,301.7 L507.50,293.9 L508.25,287.5 L509.00,282.2 L509.75,276.0 L510.50,268.1 L511.25,261.0 L512.00,257.8 L512.75,256.2 L513.50,261.0 L514.25,268.0 L515.00,273.5 L515.75,279.6 L516.50,285.8 L517.25,292.9 L518.00,300.5 L518.75,305.8 L519.50,312.3 L520.25,318.7 L521.00,321.2 L521.75,326.6 L522.50,328.2 L523.25,328.0 L524.00,329.8 L524.75,329.8 L525.50,332.4 L526.25,330.9 L527.00,334.1 L527.75,333.6 L528.50,331.1 L529.25,334.4 L530.00,335.5 L530.75,333.2 L531.50,335.4 L532.25,332.5 L533.00,335.0 L533.75,333.1 L534.50,335.6 L535.25,333.2 L536.00,332.4 L536.75,335.8 L537.50,338.0 L538.25,334.8 L539.00,336.4 L539.75,335.6 L540.50,335.0 L541.25,335.9 L542.00,336.9 L542.75,333.6 L543.50,335.4 L544.25,334.9 L545.00,332.7 L545.75,335.9 L546.50,336.0 L547.25,332.5 L548.00,335.1 L548.75,332.9 L549.50,332.3 L550.25,333.6 L551.00,331.6 L551.75,331.1 L552.50,331.6 L553.25,330.5 L554.00,329.1 L554.75,324.7 L555.50,322.0 L556.25,321.9 L557.00,316.0 L557.75,313.3 L558.50,307.7 L559.25,303.1 L560.00,295.0 L560.75,290.9 L561.50,281.1 L562.25,274.4 L563.00,266.6 L563.75,264.3 L564.50,263.4 L565.25,270.1 L566.00,276.7 L566.75,284.0 L567.50,291.3 L568.25,298.4 L569.00,306.9 L569.75,312.6 L570.50,319.9 L571.25,324.9 L572.00,327.6 L572.75,329.2 L573.50,330.2 L574.25,332.8 L575.00,330.1 L575.75,331.2 L576.50,332.6 L577.25,328.7 L578.00,328.9 L578.75,329.2 L579.50,329.9 L580.25,332.2 L581.00,329.3 L581.75,329.5 L582.50,327.3 L583.25,324.1 L584.00,323.3 L584.75,325.8 L585.50,323.6 L586.25,320.3 L587.00,320.9 L587.75,314.2 L588.50,310.9 L589.25,303.7 L590.00,293.8 L590.75,286.4 L591.50,281.2 L592.25,272.2 L593.00,268.9 L593.75,261.8 L594.50,258.8 L595.25,250.8 L596.00,238.6 L596.75,224.7 L597.50,213.9 L598.25,204.2 L599.00,205.8 L599.75,211.1 L600.50,221.4 L601.25,230.1 L602.00,244.4 L602.75,251.7 L603.50,257.6 L604.25,266.3 L605.00,272.4 L605.75,276.6 L606.50,282.5 L607.25,290.0 L608.00,295.2 L608.75,302.0 L609.50,310.5 L610.25,315.2 L611.00,320.2 L611.75,324.3 L612.50,326.1 L613.25,328.5 L614.00,329.8 L614.75,329.5 L615.50,331.0 L616.25,334.4 L617.00,332.9 L617.75,332.9 L618.50,335.9 L619.25,334.1 L620.00,333.2 L620.75,335.4 L621.50,333.9 L622.25,334.6 L623.00,335.7 L623.75,335.4 L624.50,334.9 L625.25,335.3 L626.00,335.4 L626.75,337.5 L627.50,335.6 L628.25,335.8 L629.00,338.8 L629.75,336.1 L630.50,338.5 L631.25,338.4 L632.00,336.9 L632.75,335.6 L633.50,337.7 L634.25,338.0 L635.00,338.4 L635.75,337.5 L636.50,338.9 L637.25,339.2 L638.00,336.6 L638.75,339.4 L639.50,338.1 L640.25,337.3 L641.00,337.7 L641.75,340.2 L642.50,339.2 L643.25,336.3 L644.00,338.4 L644.75,338.2 L645.50,338.2 L646.25,337.9 L647.00,336.9 L647.75,339.5 L648.50,337.6 L649.25,338.2 L650.00,338.0 L650.75,337.9 L651.50,339.6 L652.25,339.3 L653.00,338.1 L653.75,337.9 L654.50,338.5 L655.25,340.1 L656.00,339.2 L656.75,339.4 L657.50,338.8 L658.25,338.9 L659.00,339.5 L659.75,337.2 L660.50,341.1 L661.25,338.5 L662.00,338.7 L662.75,340.9 L663.50,339.6 L664.25,339.5 L665.00,338.8 L665.75,337.8 L666.50,339.7 L667.25,340.8 L668.00,338.5 L668.75,341.0 L669.50,338.3 L670.25,338.8 L671.00,340.1 L671.75,339.6 L672.50,340.4 L673.25,338.8 L674.00,338.5 L674.75,337.6 L675.50,338.3 L676.25,338.5 L677.00,338.1 L677.75,340.0 L678.50,339.0 L679.25,337.5 L680.00,342.4 L680.75,338.8 L681.50,338.3 L682.25,341.1 L683.00,341.0 L683.75,338.5 L684.50,338.1 L685.25,338.7 L686.00,341.0 L686.75,339.4 L687.50,338.9 L688.25,339.8 L689.00,341.1 L689.75,338.3 L690.50,339.4 L691.25,338.3 L692.00,342.2 L692.75,341.8 L693.50,340.9 L694.25,339.7 L695.00,340.6 L695.75,337.5 L696.50,340.2 L697.25,338.4 L698.00,338.4 L698.75,339.1 L699.50,339.5 L700.25,340.5 L701.00,340.7 L701.75,340.2 L702.50,338.9 L703.25,340.7 L704.00,339.8 L704.75,341.2 L705.50,338.9 L706.25,336.9 L707.00,339.4 L707.75,342.3 L708.50,340.5 L709.25,339.7 L710.00,340.9 L710.75,340.5 L711.50,340.5 L712.25,339.4 L713.00,340.1 L713.75,340.2 L714.50,339.3 L715.25,338.8 L716.00,340.2 L716.75,341.1 L717.50,340.7 L718.25,340.6 L719.00,340.6 L719.75,342.9 L720.50,340.3 L721.25,341.2 L722.00,342.2 L722.75,340.1 L723.50,340.4 L724.25,341.2 L725.00,342.0 L725.75,340.4 L726.50,340.5 L727.25,340.2 L728.00,338.8 L728.75,341.4 L729.50,339.9 L730.25,338.2 L731.00,340.0 L731.75,338.3 L732.50,339.1 L733.25,340.2 L734.00,339.2 L734.75,341.4 L735.50,338.6 L736.25,340.5 L737.00,340.8 L737.75,341.8 L738.50,341.2 L739.25,340.5 L740.00,340.3 L740.75,340.2 L741.50,341.5 L742.25,339.5 L743.00,340.8 L743.75,340.1 L744.50,340.5 L745.25,340.0 L746.00,342.6 L746.75,339.5 L747.50,340.6 L748.25,340.6 L749.00,341.0 L749.75,340.8 L750.50,340.8 L751.25,341.4 L752.00,338.6 L752.75,340.3 L753.50,338.9 L754.25,340.6 L755.00,339.0 L755.75,339.3 L756.50,340.2 L757.25,341.8 L758.00,340.9 L758.75,340.6 L759.50,341.9 L760.25,339.3 L761.00,338.0 L761.75,339.8 L762.50,340.0 L763.25,341.7 L764.00,342.7 L764.75,338.8 L765.50,343.0 L766.25,342.0 L767.00,341.2 L767.75,340.7 L768.50,342.9 L769.25,340.3 L770.00,339.7 L770.75,340.4 L771.50,338.7 L772.25,340.7 L773.00,340.1 L773.75,340.6 L774.50,340.6 L775.25,339.0 L776.00,341.6 L776.75,339.0 L777.50,341.1 L778.25,338.3 L779.00,340.5 L779.75,339.1 L780.50,340.1 L781.25,339.3 L782.00,337.6 L782.75,338.7 L783.50,340.0 L784.25,340.6 L785.00,338.2 L785.75,337.5 L786.50,338.8 L787.25,339.5 L788.00,339.0 L788.75,338.8 L789.50,340.6 L790.25,340.7 L791.00,340.4 L791.75,338.5 L792.50,339.6 L793.25,339.2 L794.00,337.7 L794.75,340.1 L795.50,339.1 L796.25,338.2 L797.00,340.1 L797.75,339.1 L798.50,338.9 L799.25,339.0 L800.00,338.1 L800.75,335.6 L801.50,336.2 L802.25,337.3 L803.00,334.9 L803.75,335.4 L804.50,335.3 L805.25,335.8 L806.00,334.9 L806.75,333.5 L807.50,331.3 L808.25,331.3 L809.00,329.7 L809.75,327.7 L810.50,328.2 L811.25,326.0 L812.00,323.4 L812.75,324.4 L813.50,321.3 L814.25,320.6 L815.00,316.5 L815.75,316.5 L816.50,313.8 L817.25,312.4 L818.00,310.2 L818.75,314.0 L819.50,311.4 L820.25,312.5 L821.00,314.9 L821.75,315.4 L822.50,318.3 L823.25,318.4 L824.00,322.1 L824.75,323.0 L825.50,325.4 L826.25,326.4 L827.00,326.1 L827.75,326.9 L828.50,329.1 L829.25,332.2 L830.00,333.0 L830.75,333.9 L831.50,332.0 L832.25,331.9 L833.00,334.6 L833.75,335.2 L834.50,335.2 L835.25,336.5 L836.00,336.2 L836.75,335.3 L837.50,335.9 L838.25,337.2 L839.00,337.4 L839.75,337.4 L840.50,340.2 L841.25,337.5 L842.00,338.1 L842.75,337.0 L843.50,337.9 L844.25,339.0 L845.00,339.1 L845.75,338.4 L846.50,339.1 L847.25,338.8 L848.00,336.8 L848.75,335.3 L849.50,341.5 L850.25,339.9 L851.00,339.0 L851.75,337.2 L852.50,337.7 L853.25,340.7 L854.00,336.2 L854.75,338.9 L855.50,340.3 L856.25,339.5 L857.00,340.2 L857.75,339.3 L858.50,342.1 L859.25,338.4 L860.00,338.0 L860.75,339.9 L861.50,341.2 L862.25,339.6 L863.00,340.8 L863.75,339.1 L864.50,338.4 L865.25,341.3 L866.00,341.5 L866.75,341.5 L867.50,339.3 L868.25,338.6 L869.00,338.6 L869.75,339.6 L870.50,340.5 L871.25,340.5 L872.00,338.3 L872.75,340.2 L873.50,340.0 L874.25,340.1 L875.00,339.9 L875.75,339.8 L876.50,340.6 L877.25,340.1 L878.00,340.2 L878.75,339.2 L879.50,340.4 L880.25,339.9 L881.00,337.7 L881.75,340.5 L882.50,339.7 L883.25,341.0 L884.00,339.8 L884.75,339.9 L885.50,340.2 L886.25,340.0 L887.00,339.5 L887.75,338.0 L888.50,342.0 L889.25,338.3 L890.00,339.6 L890.75,340.7 L891.50,340.4 L892.25,340.6 L893.00,340.8 L893.75,341.4 L894.50,340.3 L895.25,343.2 L896.00,338.9 L896.75,340.3 L897.50,339.6 L898.25,339.4 L899.00,340.3 L899.75,341.6 L900.50,339.2 L901.25,339.2 L902.00,340.8 L902.75,340.6 L903.50,342.2 L904.25,341.1 L905.00,340.3 L905.75,339.6 L906.50,340.2 L907.25,339.8 L908.00,338.5 L908.75,340.0 L909.50,339.8 L910.25,339.7 L911.00,339.5 L911.75,341.9 L912.50,340.8 L913.25,341.0 L914.00,339.3 L914.75,338.9 L915.50,339.7 L916.25,340.3 L917.00,339.6 L917.75,339.8 L918.50,341.1 L919.25,340.3 L920.00,338.9 L920.75,339.5 L921.50,339.3 L922.25,340.2 L923.00,338.7 L923.75,339.8 L924.50,340.8 L925.25,340.0 L926.00,339.0 L926.75,339.3 L927.50,340.1 L928.25,340.5 L929.00,340.9 L929.75,339.8 L930.50,338.6 L931.25,341.6 L932.00,340.3 L932.75,340.4 L933.50,340.3 L934.25,338.8 L935.00,339.6 L935.75,340.3 L936.50,341.1 L937.25,340.0 L938.00,336.5 L938.75,339.7 L939.50,340.3 L940.25,341.4 L941.00,340.7 L941.75,342.7 L942.50,341.5 L943.25,341.4 L944.00,340.9 L944.75,338.4 L945.50,340.8 L946.25,340.5 L947.00,339.3 L947.75,340.5 L948.50,340.3 L949.25,339.3 L950.00,339.6 L950.75,339.5 L951.50,340.0 L952.25,339.3 L953.00,340.3 L953.75,337.6 L954.50,339.4 L955.25,337.8 L956.00,339.1 L956.75,340.2 L957.50,339.6 L958.25,339.4 L959.00,339.6 L959.75,341.2 L960.50,338.3 L961.25,340.4 L962.00,337.7 L962.75,338.9 L963.50,339.5 L964.25,338.3 L965.00,339.4 L965.75,339.9 L966.50,337.7 L967.25,338.8 L968.00,338.4 L968.75,336.6 L969.50,338.4 L970.25,337.6 L971.00,339.7 L971.75,337.0 L972.50,339.4 L973.25,336.5 L974.00,338.7 L974.75,336.6 L975.50,335.9 L976.25,335.7 L977.00,335.1 L977.75,334.9 L978.50,334.6 L979.25,331.6 L980.00,329.8 L980.75,327.3 L981.50,328.9 L982.25,329.2 L983.00,327.6 L983.75,326.2 L984.50,324.4 L985.25,322.7 L986.00,321.6 L986.75,320.8 L987.50,316.8 L988.25,317.3 L989.00,311.7 L989.75,309.4 L990.50,305.0 L991.25,301.8 L992.00,298.3 L992.75,296.8 L993.50,297.9 L994.25,297.7 L995.00,303.0 L995.75,301.6 L996.50,303.5 L997.25,306.0 L998.00,308.0 L998.75,309.0 L999.50,313.9 L1000.25,316.8 L1001.00,316.8 L1001.75,320.4 L1002.50,321.1 L1003.25,324.5 L1004.00,327.0 L1004.75,329.1 L1005.50,330.7 L1006.25,330.8 L1007.00,333.5 L1007.75,332.7 L1008.50,334.2 L1009.25,335.2 L1010.00,334.6 L1010.75,334.0 L1011.50,336.5 L1012.25,335.0 L1013.00,335.5 L1013.75,335.5 L1014.50,337.8 L1015.25,336.8 L1016.00,334.6 L1016.75,338.0 L1017.50,339.6 L1018.25,339.3 L1019.00,336.8 L1019.75,337.6 L1020.50,338.1 L1021.25,338.6 L1022.00,337.7 L1022.75,336.5 L1023.50,338.6 L1024.25,338.5 L1025.00,336.4 L1025.75,337.5 L1026.50,338.2 L1027.25,337.9 L1028.00,338.5 L1028.75,338.8 L1029.50,338.6 L1030.25,337.9 L1031.00,336.5 L1031.75,338.7 L1032.50,339.6 L1033.25,340.2 L1034.00,338.0 L1034.75,338.0 L1035.50,339.7 L1036.25,339.7 L1037.00,338.5 L1037.75,338.9 L1038.50,337.3 L1039.25,338.8 L1040.00,337.3 L1040.75,338.0 L1041.50,338.1 L1042.25,337.7 L1043.00,335.9 L1043.75,337.3 L1044.50,338.6 L1045.25,338.2 L1046.00,337.8 L1046.75,338.7 L1047.50,339.0 L1048.25,339.2 L1049.00,337.4 L1049.75,338.3 L1050.50,337.9 L1051.25,337.3 L1052.00,336.6 L1052.75,338.2 L1053.50,337.3 L1054.25,340.7 L1055.00,338.2 L1055.75,338.0 L1056.50,337.8 L1057.25,340.3 L1058.00,337.2 L1058.75,338.1 L1059.50,337.4 L1060.25,338.1 L1061.00,338.2 L1061.75,339.5 L1062.50,336.7 L1063.25,338.2 L1064.00,340.0 L1064.75,337.7 L1065.50,338.0 L1066.25,337.2 L1067.00,335.3 L1067.75,338.1 L1068.50,339.5 L1069.25,337.7 L1070.00,336.1 L1070.75,338.4 L1071.50,338.2 L1072.25,339.2 L1073.00,339.1 L1073.75,337.8 L1074.50,338.5 L1075.25,336.1 L1076.00,339.3 L1076.75,338.3 L1077.50,339.2 L1078.25,339.2 L1079.00,337.7 L1079.75,337.8 L1080.50,337.0 L1081.25,335.7 L1082.00,337.8 L1082.75,338.0 L1083.50,336.6 L1084.25,338.5 L1085.00,337.8 L1085.75,338.1 L1086.50,336.6 L1087.25,335.4 L1088.00,338.1 L1088.75,337.8 L1089.50,336.9 L1090.25,336.5 L1091.00,336.5 L1091.75,336.5 L1092.50,336.0 L1093.25,334.2 L1094.00,337.2 L1094.75,334.5 L1095.50,335.6 L1096.25,335.5 L1097.00,335.9 L1097.75,333.6 L1098.50,336.5 L1099.25,335.6 L1100.00,335.4 L1100.75,335.6 L1101.50,333.0 L1102.25,329.9 L1103.00,333.0 L1103.75,333.0 L1104.50,331.6 L1105.25,328.4 L1106.00,327.4 L1106.75,326.2 L1107.50,322.3 L1108.25,322.0 L1109.00,320.5 L1109.75,321.6 L1110.50,317.8 L1111.25,318.7 L1112.00,315.4 L1112.75,311.9 L1113.50,314.6 L1114.25,309.5 L1115.00,309.9 L1115.75,310.0 L1116.50,306.6 L1117.25,305.3 L1118.00,307.7 L1118.75,307.1 L1119.50,307.0 L1120.25,309.0 L1121.00,311.9 L1121.75,315.7 L1122.50,316.7 L1123.25,319.8 L1124.00,322.8 L1124.75,324.4 L1125.50,326.8 L1126.25,328.7 L1127.00,327.7 L1127.75,332.6 L1128.50,333.0 L1129.25,333.5 L1130.00,332.9 L1130.75,332.7 L1131.50,333.6 L1132.25,335.2 L1133.00,334.2 L1133.75,334.8 L1134.50,335.2 L1135.25,336.8 L1136.00,336.0 L1136.75,336.3 L1137.50,338.1 L1138.25,336.4 L1139.00,337.6 L1139.75,335.9 L1140.50,337.5 L1141.25,337.4 L1142.00,337.6 L1142.75,337.0 L1143.50,336.5 L1144.25,337.4 L1145.00,337.4 L1145.75,339.1 L1146.50,339.0 L1147.25,336.8 L1148.00,338.9 L1148.75,337.7 L1149.50,338.8 L1150.25,337.8 L1151.00,336.7 L1151.75,339.5 L1152.50,338.9 L1153.25,337.1 L1154.00,336.4 L1154.75,337.9 L1155.50,337.2 L1156.25,338.1 L1157.00,339.3 L1157.75,340.2 L1158.50,338.2 L1159.25,340.2 L1160.00,339.9 L1160.75,338.2 L1161.50,336.9 L1162.25,339.7 L1163.00,339.4 L1163.75,341.3 L1164.50,340.3 L1165.25,339.6 L1166.00,340.6 L1166.75,337.6 L1167.50,339.0 L1168.25,338.5 L1169.00,340.7 L1169.75,339.4 L1170.50,335.4 L1171.25,340.2 L1172.00,337.6 L1172.75,339.2 L1173.50,337.6 L1174.25,338.1 L1175.00,338.2 L1175.75,337.4 L1176.50,335.7 L1177.25,337.9 L1178.00,336.5 L1178.75,335.6 L1179.50,336.0 L1180.25,334.3 L1181.00,336.6 L1181.75,334.4 L1182.50,334.3 L1183.25,334.0 L1184.00,332.5 L1184.75,332.0 L1185.50,333.5 L1186.25,333.6 L1187.00,334.9 L1187.75,334.2 L1188.50,333.0 L1189.25,335.3 L1190.00,336.2 L1190.75,336.9 L1191.50,336.7 L1192.25,335.4 L1193.00,338.4 L1193.75,336.4 L1194.50,337.8 L1195.25,335.3 L1196.00,337.6 L1196.75,335.6 L1197.50,337.2 L1198.25,337.5 L1199.00,336.3 L1199.75,333.1 L1200.50,332.7 L1201.25,332.1 L1202.00,333.2 L1202.75,331.9 L1203.50,330.6 L1204.25,329.4 L1205.00,328.2 L1205.75,326.8 L1206.50,326.4 L1207.25,322.9 L1208.00,321.9 L1208.75,318.3 L1209.50,317.5 L1210.25,316.8 L1211.00,314.7 L1211.75,314.8 L1212.50,314.4 L1213.25,311.6 L1214.00,310.6 L1214.75,309.8 L1215.50,310.2 L1216.25,309.5 L1217.00,311.3 L1217.75,312.3 L1218.50,313.9 L1219.25,316.0 L1220.00,316.9 L1220.75,318.6 L1221.50,321.8 L1222.25,321.6 L1223.00,324.5 L1223.75,325.7 L1224.50,327.0 L1225.25,328.7 L1226.00,329.7 L1226.75,331.5 L1227.50,331.0 L1228.25,331.0 L1229.00,332.1 L1229.75,329.8 L1230.50,330.2 L1231.25,328.3 L1232.00,328.0 L1232.75,325.8 L1233.50,326.3 L1234.25,329.0 L1235.00,327.1 L1235.75,327.5 L1236.50,326.9 L1237.25,327.9 L1238.00,326.1 L1238.75,326.8 L1239.50,328.6 L1240.25,329.5 L1241.00,328.8 L1241.75,330.1 L1242.50,331.0 L1243.25,332.4 L1244.00,332.4 L1244.75,333.2 L1245.50,335.4 L1246.25,334.0 L1247.00,335.2 L1247.75,335.9 L1248.50,335.8 L1249.25,337.6 L1250.00,337.1 L1250.75,337.8 L1251.50,337.0 L1252.25,337.5 L1253.00,339.1 L1253.75,339.1 L1254.50,338.4 L1255.25,339.5 L1256.00,339.5 L1256.75,339.6 L1257.50,341.3 L1258.25,339.3 L1259.00,340.3 L1259.75,340.4 L1260.50,339.9 L1261.25,339.0 L1262.00,341.2 L1262.75,340.8 L1263.50,340.7 L1264.25,340.8 L1265.00,340.9 L1265.75,339.9 L1266.50,341.3 L1267.25,339.1 L1268.00,341.1 L1268.75,339.5 L1269.50,340.8 L1270.25,341.9 L1271.00,340.9 L1271.75,340.6 L1272.50,341.7" stroke="#ff0000" stroke-width="5.4"/>
</g>
<rect x="88.75" y="5.3" width="1184.75" height="913.2" fill="none" stroke="#000" stroke-width="6.5" stroke-linejoin="round"/>
<path d="M88.50 918.5 V935.5 M185.70 918.5 V927.5 M282.90 918.5 V935.5 M380.10 918.5 V927.5 M477.30 918.5 V935.5 M574.50 918.5 V927.5 M671.70 918.5 V935.5 M768.90 918.5 V927.5 M866.10 918.5 V935.5 M963.30 918.5 V927.5 M1060.50 918.5 V935.5 M1157.70 918.5 V927.5 M1254.90 918.5 V935.5" stroke="#000" stroke-width="6.5" stroke-linecap="round" fill="none"/>
<text transform="matrix(0.4500 0 0 0.3881 65.10 978.61)" font-weight="bold">10</text>
<text transform="matrix(0.4304 0 0 0.3881 261.38 978.61)" font-weight="bold">20</text>
<text transform="matrix(0.4304 0 0 0.3881 455.78 978.61)" font-weight="bold">30</text>
<text transform="matrix(0.4168 0 0 0.3881 651.48 978.61)" font-weight="bold">40</text>
<text transform="matrix(0.4304 0 0 0.3881 844.58 978.61)" font-weight="bold">50</text>
<text transform="matrix(0.4258 0 0 0.3881 1039.42 978.61)" font-weight="bold">60</text>
<text transform="matrix(0.4400 0 0 0.3881 1232.46 978.61)" font-weight="bold">70</text>
<text transform="matrix(0.5103 0 0 0.4866 251.20 315.11)" font-weight="bold">ZG-1</text>
<text transform="matrix(0.5295 0 0 0.4836 256.75 503.92)" font-weight="bold">ZnO</text>
<text transform="matrix(0.5322 0 0 0.4896 275.64 802.91)" font-weight="bold">GO</text>
<text transform="matrix(0.4077 0 0 0.4111 95.77 655.87)" font-weight="bold">(001)</text>
<text transform="matrix(0 -0.4782 0.5054 0 39.18 637.23)">Intensity(a.u.)</text>
<text transform="matrix(0 -0.4024 0.4133 0 534.12 251.11)">(100)</text>
<text transform="matrix(0 -0.3893 0.4256 0 587.76 258.86)">( 002)</text>
<text transform="matrix(0 -0.3923 0.4189 0 631.20 207.97)">(101)</text>
<text transform="matrix(0 -0.3918 0.3956 0 850.09 299.07)">(102)</text>
<text transform="matrix(0 -0.4054 0.4200 0 1019.98 293.62)">(110)</text>
<text transform="matrix(0 -0.3906 0.4000 0 1135.60 301.56)">(103)</text>
<text transform="matrix(0 -0.3904 0.4078 0 1196.44 315.56)">(200)</text>
<text transform="matrix(0 -0.3990 0.4000 0 1231.00 293.60)">(112)</text>
<text transform="matrix(0 -0.3906 0.3933 0 1265.74 320.31)">(201)</text>
<text transform="matrix(0.5287 0 0 0.4746 566.79 1060.93)">2<tspan font-weight="normal">θ</tspan></text>
<text transform="matrix(0.5208 0 0 0.4626 634.52 1060.42)" font-weight="bold">/degree</text>

</svg>
</body></html>
